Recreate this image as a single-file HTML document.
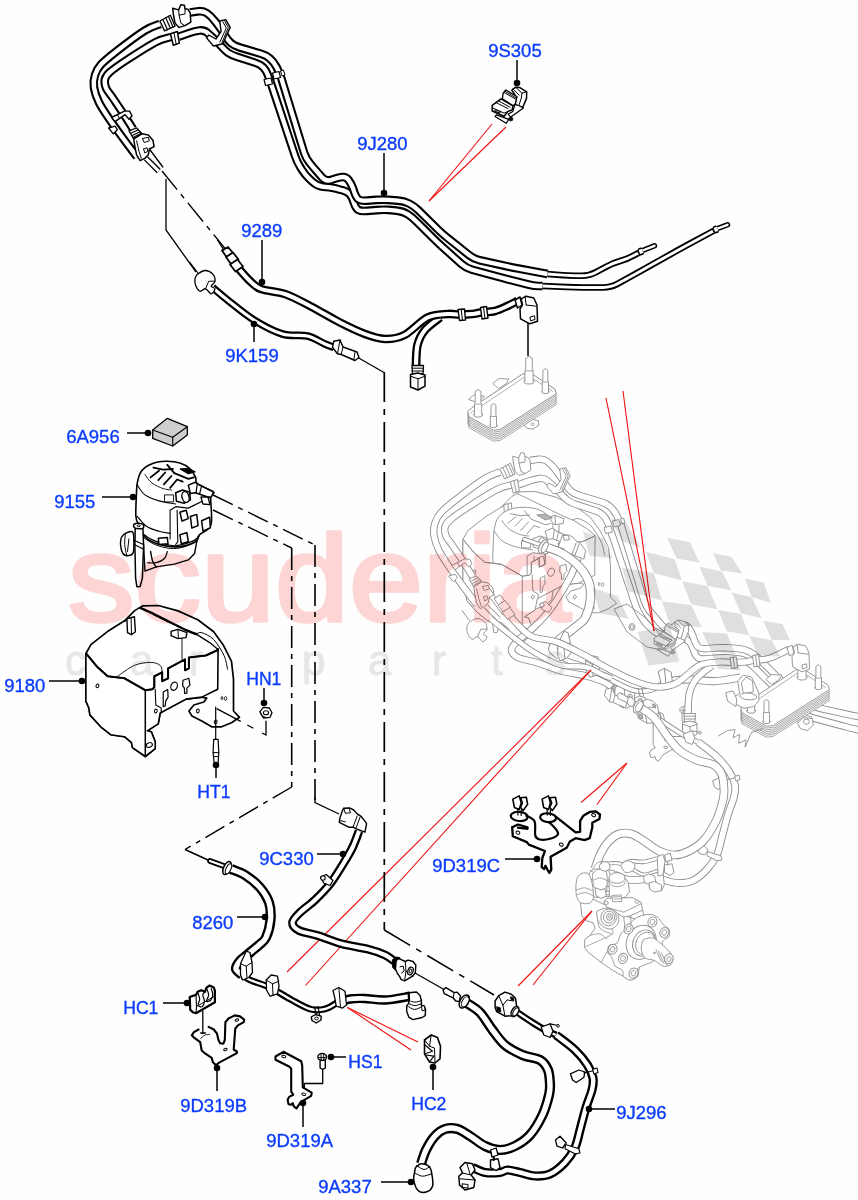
<!DOCTYPE html>
<html><head><meta charset="utf-8"><title>Fuel Lines</title>
<style>
html,body{margin:0;padding:0;background:#fdfefd;}
body{width:858px;height:1200px;overflow:hidden;font-family:"Liberation Sans",Arial,sans-serif;}
svg{display:block;}
</style></head><body>
<svg width="858" height="1200" viewBox="0 0 858 1200">
<rect width="858" height="1200" fill="#fdfefd"/>
<g id="ghost"><path d="M492.8 383.5L498.6 378.6L508.8 379.0L506.3 383.5L498.6 388.6Z" fill="#fff" stroke="#8f8f8f" stroke-width="0.9" stroke-linejoin="round"/><path d="M468.5 399.5L474.2 394.7L484.5 396.3L478.1 402.7Z" fill="#fff" stroke="#8f8f8f" stroke-width="0.9" stroke-linejoin="round"/><path d="M524.2 425.1L531.9 419.4L538.3 420.6L539.0 425.1L533.2 429.0L526.8 428.3Z" fill="#fff" stroke="#8f8f8f" stroke-width="0.9" stroke-linejoin="round"/><ellipse cx="532.6" cy="424.2" rx="1.6" ry="1.3" transform="rotate(0 532.6 424.2)" fill="#fff" stroke="#8f8f8f" stroke-width="0.8"/><path d="M467.8 422.6L471.7 418.7L522.9 384.7L531.9 384.7L555.0 400.1L556.3 404.6L499.9 440.5L493.5 441.2L469.1 427.7Z" fill="#fff" stroke="#8f8f8f" stroke-width="0.8" stroke-linejoin="round"/><path d="M467.8 420.6L471.7 416.8L522.9 382.8L531.9 382.8L555.0 398.2L556.3 402.7L499.9 438.6L493.5 439.2L469.1 425.8Z" fill="#fff" stroke="#8f8f8f" stroke-width="0.8" stroke-linejoin="round"/><path d="M467.8 418.8L471.7 415.0L522.9 381.0L531.9 381.0L555.0 396.4L556.3 400.9L499.9 436.8L493.5 437.4L469.1 424.0Z" fill="#fff" stroke="#8f8f8f" stroke-width="0.8" stroke-linejoin="round"/><path d="M467.8 417.1L471.7 413.2L522.9 379.2L531.9 379.2L555.0 394.6L556.3 399.1L499.9 435.0L493.5 435.6L469.1 422.2Z" fill="#fff" stroke="#8f8f8f" stroke-width="0.8" stroke-linejoin="round"/><path d="M467.8 415.3L471.7 411.4L522.9 377.4L531.9 377.4L555.0 392.8L556.3 397.3L499.9 433.2L493.5 433.8L469.1 420.4Z" fill="#fff" stroke="#8f8f8f" stroke-width="0.8" stroke-linejoin="round"/><path d="M467.8 413.5L471.7 409.6L522.9 375.6L531.9 375.6L555.0 391.0L556.3 395.5L499.9 431.4L493.5 432.1L469.1 418.6Z" fill="#fff" stroke="#8f8f8f" stroke-width="0.8" stroke-linejoin="round"/><path d="M467.8 411.7L471.7 407.8L522.9 373.8L531.9 373.8L555.0 389.2L556.3 393.7L499.9 429.6L493.5 430.3L469.1 416.8Z" fill="#fff" stroke="#8f8f8f" stroke-width="1.0" stroke-linejoin="round"/><path d="M471.0 412.9L523.6 377.7L531.3 377.7L552.4 391.2" fill="none" stroke="#8f8f8f" stroke-width="0.7" stroke-linejoin="round" stroke-linecap="round"/><ellipse cx="529.0" cy="381.5" rx="5.1" ry="2.5" transform="rotate(0 529.0 381.5)" fill="#fff" stroke="#8f8f8f" stroke-width="0.9"/><path d="M524.9 381.5L524.9 370.9L525.7 369.4L525.7 358.2L529.0 356.4L532.3 358.2L532.3 369.4L533.1 370.9L533.1 381.5" fill="#fff" stroke="#8f8f8f" stroke-width="0.9" stroke-linejoin="round" stroke-linecap="round"/><path d="M524.9 370.9L533.1 370.9" fill="none" stroke="#8f8f8f" stroke-width="0.8" stroke-linejoin="round" stroke-linecap="round"/><ellipse cx="545.4" cy="391.8" rx="3.8" ry="1.8" transform="rotate(0 545.4 391.8)" fill="#fff" stroke="#8f8f8f" stroke-width="0.9"/><path d="M542.3 391.8L542.3 382.1L542.9 380.6L542.9 370.4L545.4 368.6L547.8 370.4L547.8 380.6L548.5 382.1L548.5 391.8" fill="#fff" stroke="#8f8f8f" stroke-width="0.9" stroke-linejoin="round" stroke-linecap="round"/><path d="M542.3 382.1L548.5 382.1" fill="none" stroke="#8f8f8f" stroke-width="0.8" stroke-linejoin="round" stroke-linecap="round"/><ellipse cx="478.1" cy="414.9" rx="4.5" ry="2.2" transform="rotate(0 478.1 414.9)" fill="#fff" stroke="#8f8f8f" stroke-width="0.9"/><path d="M474.5 414.9L474.5 404.2L475.2 402.7L475.2 391.5L478.1 389.7L480.9 391.5L480.9 402.7L481.7 404.2L481.7 414.9" fill="#fff" stroke="#8f8f8f" stroke-width="0.9" stroke-linejoin="round" stroke-linecap="round"/><path d="M474.5 404.2L481.7 404.2" fill="none" stroke="#8f8f8f" stroke-width="0.8" stroke-linejoin="round" stroke-linecap="round"/><ellipse cx="493.5" cy="425.8" rx="3.8" ry="1.8" transform="rotate(0 493.5 425.8)" fill="#fff" stroke="#8f8f8f" stroke-width="0.9"/><path d="M490.4 425.8L490.4 416.5L491.0 415.0L491.0 405.3L493.5 403.5L495.9 405.3L495.9 415.0L496.5 416.5L496.5 425.8" fill="#fff" stroke="#8f8f8f" stroke-width="0.9" stroke-linejoin="round" stroke-linecap="round"/><path d="M490.4 416.5L496.5 416.5" fill="none" stroke="#8f8f8f" stroke-width="0.8" stroke-linejoin="round" stroke-linecap="round"/><g transform="translate(377.0 -114.0)"><path d="M85.9 653.5L90.9 644.6L108.7 630.7L124.5 620.8L134.4 610.9L142.4 605.9L158.2 605.5L178.0 610.9L197.8 619.8L213.7 631.7L223.6 645.6L231.5 661.4L233.5 679.3L233.5 711.0L239.5 717.3L231.5 722.8L221.6 726.8L211.7 726.8L201.8 720.9L191.9 715.9L188.9 711.0L193.9 705.0L203.8 702.0L206.8 698.1L201.8 697.1L186.0 699.1L160.2 712.9L158.2 723.8L147.3 730.8L151.3 731.8L155.2 741.7L155.2 748.6L145.3 756.5L132.5 747.6L131.5 742.7L124.5 736.7L110.7 734.7L100.8 726.8L89.9 714.9L88.9 708.0L85.9 701.1Z" fill="#fff" stroke="#8c8c8c" stroke-width="0.9" stroke-linejoin="round"/><path d="M124.5 621.4L126.9 619.8" fill="none" stroke="#8c8c8c" stroke-width="0.9" stroke-linejoin="round" stroke-linecap="round"/><path d="M140.4 607.9C142.7 609.0 149.3 611.9 154.3 614.3C159.2 616.6 164.5 619.4 170.1 622.2C175.7 625.0 183.6 628.9 187.9 630.9C192.3 632.9 194.9 633.6 196.3 634.1" fill="none" stroke="#8c8c8c" stroke-width="0.9" stroke-linejoin="round" stroke-linecap="round"/><path d="M196.3 634.1L209.7 642.6L218.1 649.5" fill="none" stroke="#8c8c8c" stroke-width="0.9" stroke-linejoin="round" stroke-linecap="round"/><path d="M196.3 634.1C197.2 633.8 198.9 631.8 201.8 632.7C204.7 633.6 210.0 635.8 213.7 639.6C217.4 643.4 221.7 650.5 224.0 655.5C226.3 660.4 227.0 667.0 227.6 669.3" fill="none" stroke="#8c8c8c" stroke-width="0.9" stroke-linejoin="round" stroke-linecap="round"/><path d="M126.9 618.8L134.4 616.8L135.4 631.7L131.5 634.7L127.5 632.7Z" fill="#fff" stroke="#8c8c8c" stroke-width="0.9" stroke-linejoin="round"/><path d="M131.1 618.2L131.5 633.7" fill="none" stroke="#8c8c8c" stroke-width="0.9" stroke-linejoin="round" stroke-linecap="round"/><path d="M171.1 631.3L178.0 629.3L186.9 632.7L186.0 637.6L178.0 638.6L171.1 635.7Z" fill="#fff" stroke="#8c8c8c" stroke-width="0.9" stroke-linejoin="round"/><path d="M178.0 629.7L178.4 638.0" fill="none" stroke="#8c8c8c" stroke-width="0.9" stroke-linejoin="round" stroke-linecap="round"/><path d="M117.6 676.3C120.4 674.5 129.0 667.7 134.4 665.4C139.9 663.1 146.0 662.4 150.3 662.4C154.6 662.4 158.2 663.7 160.2 665.4C162.2 667.0 161.9 671.2 162.2 672.3" fill="none" stroke="#8c8c8c" stroke-width="0.9" stroke-linejoin="round" stroke-linecap="round"/><path d="M182.0 638.6L182.0 659.4" fill="none" stroke="#8c8c8c" stroke-width="0.9" stroke-linejoin="round" stroke-linecap="round"/><ellipse cx="222.0" cy="698.1" rx="0.9" ry="1.6" transform="rotate(0 222.0 698.1)" fill="#fff" stroke="#8c8c8c" stroke-width="0.8"/><ellipse cx="225.6" cy="698.5" rx="1.2" ry="1.9" transform="rotate(0 225.6 698.5)" fill="#fff" stroke="#8c8c8c" stroke-width="0.8"/><ellipse cx="197.8" cy="711.0" rx="1.4" ry="1.9" transform="rotate(20 197.8 711.0)" fill="#fff" stroke="#8c8c8c" stroke-width="0.9"/><ellipse cx="215.7" cy="721.9" rx="1.4" ry="1.9" transform="rotate(20 215.7 721.9)" fill="#fff" stroke="#8c8c8c" stroke-width="0.9"/></g><g transform="translate(357.0 46.0)"><path d="M121.2 537.5C121.9 536.8 123.5 534.3 125.4 533.3C127.2 532.4 131.0 531.0 132.4 531.9C133.8 532.9 133.7 535.4 133.8 538.9C133.9 542.4 134.2 550.1 133.1 552.9C131.9 555.7 128.5 555.7 126.8 555.7C125.0 555.7 123.6 554.8 122.6 552.9C121.5 551.0 120.7 547.1 120.5 544.5C120.3 541.9 121.1 538.7 121.2 537.5" fill="#fff" stroke="#8c8c8c" stroke-width="0.9" stroke-linejoin="round"/><path d="M125.4 533.3C125.3 535.2 124.5 540.8 124.7 544.5C124.9 548.2 126.4 553.8 126.8 555.7" fill="none" stroke="#8c8c8c" stroke-width="0.9" stroke-linejoin="round" stroke-linecap="round"/><path d="M128.9 538.9L127.5 551.5" fill="none" stroke="#8c8c8c" stroke-width="0.9" stroke-linejoin="round" stroke-linecap="round"/><path d="M142.9 538.9L143.6 545.9L145.0 571.1L156.2 566.9L174.3 564.1L188.3 559.9L194.6 553.6L196.7 541.7L199.5 534.7" fill="#fff" stroke="#8c8c8c" stroke-width="0.9" stroke-linejoin="round" stroke-linecap="round"/><path d="M150.6 551.5C150.9 553.1 151.7 558.7 152.7 561.3C153.6 563.9 155.6 566.0 156.2 566.9" fill="none" stroke="#8c8c8c" stroke-width="0.9" stroke-linejoin="round" stroke-linecap="round"/><path d="M167.3 551.5C166.9 552.7 166.4 556.6 164.5 558.5C162.7 560.4 159.0 562.0 156.2 562.7C153.4 563.4 149.2 562.7 147.8 562.7" fill="none" stroke="#8c8c8c" stroke-width="0.9" stroke-linejoin="round" stroke-linecap="round"/><path d="M136.3 497.0C136.5 494.6 136.4 487.3 137.3 483.0C138.1 478.7 139.0 474.3 141.5 471.1C143.9 467.9 147.9 465.3 152.0 463.7C156.0 462.0 161.3 461.4 165.9 461.3C170.6 461.2 175.9 461.8 179.9 463.1C184.0 464.4 187.8 466.6 190.4 469.0C193.0 471.4 194.4 474.9 195.6 477.4C196.8 479.8 194.4 481.2 197.4 483.7C200.4 486.1 211.3 489.8 213.5 492.1C215.7 494.3 211.1 491.5 210.7 497.0C210.3 502.4 212.8 518.6 211.0 524.9C209.1 531.2 202.1 531.9 199.5 534.7C196.9 537.5 198.6 539.7 195.3 541.7C192.1 543.7 184.8 545.9 179.9 546.6C175.0 547.3 170.6 546.7 165.9 545.9C161.3 545.1 155.7 543.5 152.0 541.7C148.2 540.0 145.8 538.2 143.6 535.4C141.4 532.6 140.0 528.1 138.7 524.9C137.4 521.8 136.3 521.2 135.9 516.5C135.5 511.9 136.2 500.2 136.3 497.0" fill="#fff" stroke="#8c8c8c" stroke-width="0.9" stroke-linejoin="round"/><path d="M137.3 485.1C138.6 486.7 141.4 492.2 145.0 494.9C148.6 497.5 153.8 499.4 159.0 500.9C164.1 502.4 172.9 503.4 175.7 504.0" fill="none" stroke="#8c8c8c" stroke-width="0.9" stroke-linejoin="round" stroke-linecap="round"/><path d="M145.0 474.6C146.1 476.0 148.9 480.6 152.0 483.0C155.0 485.3 159.9 487.4 163.1 488.6C166.4 489.7 170.1 489.7 171.5 490.0" fill="none" stroke="#8c8c8c" stroke-width="0.9" stroke-linejoin="round" stroke-linecap="round"/><path d="M137.3 516.5C138.8 518.2 142.8 523.9 146.4 526.3C150.0 528.8 155.0 530.1 159.0 531.2C162.9 532.4 168.3 533.0 170.1 533.3" fill="none" stroke="#8c8c8c" stroke-width="0.9" stroke-linejoin="round" stroke-linecap="round"/><path d="M141.5 532.6C143.2 533.8 147.9 537.7 152.0 539.6C156.0 541.6 161.7 543.2 165.9 544.2C170.1 545.2 172.5 546.2 177.1 545.6C181.8 545.0 190.2 542.4 193.9 540.6C197.6 538.8 198.6 535.7 199.5 534.7" fill="none" stroke="#8c8c8c" stroke-width="0.9" stroke-linejoin="round" stroke-linecap="round"/><path d="M143.6 537.5C145.4 538.7 150.3 542.7 154.8 544.5C159.2 546.3 165.5 548.0 170.1 548.4C174.8 548.9 178.6 548.3 182.7 547.3C186.8 546.3 192.6 543.2 194.6 542.4" fill="none" stroke="#8c8c8c" stroke-width="0.9" stroke-linejoin="round" stroke-linecap="round"/><path d="M170.1 510.9L170.1 538.9" fill="none" stroke="#8c8c8c" stroke-width="0.9" stroke-linejoin="round" stroke-linecap="round"/><path d="M177.1 510.2L177.8 541.7L175.7 544.5" fill="none" stroke="#8c8c8c" stroke-width="0.9" stroke-linejoin="round" stroke-linecap="round"/><path d="M170.1 510.2L175.7 506.7L188.3 508.1L210.7 497.0" fill="none" stroke="#8c8c8c" stroke-width="0.9" stroke-linejoin="round" stroke-linecap="round"/><path d="M179.9 512.3L186.2 510.2L188.3 518.6L182.0 521.0Z" fill="#fff" stroke="#8c8c8c" stroke-width="0.9" stroke-linejoin="round"/><path d="M190.4 516.5L196.7 514.4L198.1 525.6L191.8 528.0Z" fill="#fff" stroke="#8c8c8c" stroke-width="0.9" stroke-linejoin="round"/><path d="M201.6 520.7L209.6 517.2L210.4 527.7L203.0 531.2Z" fill="#fff" stroke="#8c8c8c" stroke-width="0.9" stroke-linejoin="round"/><path d="M179.9 534.7L186.9 532.6L188.3 541.7L181.3 543.8Z" fill="#fff" stroke="#8c8c8c" stroke-width="0.9" stroke-linejoin="round"/><path d="M158.3 538.2L167.3 537.5L168.0 543.8L159.0 544.5Z" fill="#fff" stroke="#8c8c8c" stroke-width="0.9" stroke-linejoin="round"/><path d="M164.5 494.9L173.6 494.9L173.6 501.9L164.5 501.9Z" fill="#fff" stroke="#8c8c8c" stroke-width="0.9" stroke-linejoin="round"/><path d="M175.7 492.8L182.7 490.0L189.7 492.1L190.4 499.8L184.1 503.3L176.4 501.2Z" fill="#fff" stroke="#8c8c8c" stroke-width="0.9" stroke-linejoin="round"/><ellipse cx="185.5" cy="497.0" rx="3.5" ry="5.5" transform="rotate(-15 185.5 497.0)" fill="#fff" stroke="#8c8c8c" stroke-width="0.9"/><path d="M188.3 485.1L195.3 482.3L199.5 485.1L213.5 492.1L211.4 497.0L207.9 497.0L195.3 492.8L190.4 493.5Z" fill="#fff" stroke="#8c8c8c" stroke-width="0.9" stroke-linejoin="round"/><path d="M197.4 483.7L196.0 492.8" fill="none" stroke="#8c8c8c" stroke-width="0.9" stroke-linejoin="round" stroke-linecap="round"/><path d="M201.6 485.8L199.5 494.4" fill="none" stroke="#8c8c8c" stroke-width="0.9" stroke-linejoin="round" stroke-linecap="round"/><path d="M200.9 497.0L207.9 497.0L210.0 504.7L203.0 504.0Z" fill="#fff" stroke="#8c8c8c" stroke-width="0.9" stroke-linejoin="round"/><path d="M153.4 467.6L163.1 469.7L172.9 469.0" fill="none" stroke="#8c8c8c" stroke-width="0.9" stroke-linejoin="round" stroke-linecap="round"/><path d="M150.6 477.4L159.0 470.7" fill="none" stroke="#8c8c8c" stroke-width="0.9" stroke-linejoin="round" stroke-linecap="round"/><path d="M158.3 480.2L165.2 472.5" fill="none" stroke="#8c8c8c" stroke-width="0.9" stroke-linejoin="round" stroke-linecap="round"/><path d="M163.8 484.4L171.5 476.0" fill="none" stroke="#8c8c8c" stroke-width="0.9" stroke-linejoin="round" stroke-linecap="round"/><path d="M170.1 487.9L177.1 479.5L182.7 481.6" fill="none" stroke="#8c8c8c" stroke-width="0.9" stroke-linejoin="round" stroke-linecap="round"/><path d="M174.3 473.2L188.3 478.8L193.9 477.4" fill="none" stroke="#8c8c8c" stroke-width="0.9" stroke-linejoin="round" stroke-linecap="round"/><path d="M167.3 464.8L174.3 473.2" fill="none" stroke="#8c8c8c" stroke-width="0.9" stroke-linejoin="round" stroke-linecap="round"/><path d="M179.9 469.0L188.3 468.3L195.3 471.8L188.3 473.9Z" fill="#b5b5b5" stroke="#8c8c8c" stroke-width="0.9" stroke-linejoin="round"/><path d="M135.2 527.7L142.9 527.7L143.6 545.9L142.4 578.1L140.1 586.5L136.9 586.7L135.6 578.1L134.9 545.9Z" fill="#fff" stroke="#8c8c8c" stroke-width="0.9" stroke-linejoin="round"/><path d="M133.8 540.3L143.6 544.5" fill="none" stroke="#8c8c8c" stroke-width="0.9" stroke-linejoin="round" stroke-linecap="round"/><path d="M134.1 544.5L143.3 549.0" fill="none" stroke="#8c8c8c" stroke-width="0.9" stroke-linejoin="round" stroke-linecap="round"/><ellipse cx="138.7" cy="526.0" rx="5.2" ry="2.8" transform="rotate(5 138.7 526.0)" fill="#fff" stroke="#8c8c8c" stroke-width="0.9"/><ellipse cx="138.7" cy="525.8" rx="1.6" ry="0.9" transform="rotate(5 138.7 525.8)" fill="#fff" stroke="#8c8c8c" stroke-width="0.9"/></g><g transform="translate(377.0 -114.0)"><path d="M86.5 653.9L96.8 666.4L107.7 676.3L124.5 678.3L145.3 690.2L152.3 689.2L154.3 687.2L154.3 676.3L162.2 672.3L162.2 681.2L168.1 678.3L168.1 668.4L185.0 659.4L185.0 670.3L188.9 668.4L188.9 657.5L205.8 655.5L216.7 650.5L218.1 649.1L217.7 689.2L201.8 697.1L186.0 699.1L160.2 712.9L158.2 723.8L147.3 730.8L151.3 731.8L155.2 741.7L155.2 748.6L145.3 756.5L132.5 747.6L131.5 742.7L124.5 736.7L110.7 734.7L100.8 726.8L89.9 714.9L88.9 708.0L85.9 701.1L85.9 653.9Z" fill="#fff" stroke="#8c8c8c" stroke-width="0.9" stroke-linejoin="round"/><path d="M86.5 653.9L96.8 666.4L107.7 676.3L124.5 678.3L145.3 690.2L152.3 689.2L154.3 687.2L154.3 676.3L162.2 672.3L162.2 681.2L168.1 678.3L168.1 668.4L185.0 659.4L185.0 670.3L188.9 668.4L188.9 657.5L205.8 655.5L216.7 650.5L218.1 649.1" fill="none" stroke="#8c8c8c" stroke-width="0.9" stroke-linejoin="round" stroke-linecap="round"/><path d="M145.3 690.2L145.3 756.5" fill="none" stroke="#8c8c8c" stroke-width="0.9" stroke-linejoin="round" stroke-linecap="round"/><path d="M155.2 689.2L155.8 705.0L161.2 708.0L161.2 712.9" fill="none" stroke="#8c8c8c" stroke-width="0.9" stroke-linejoin="round" stroke-linecap="round"/><ellipse cx="174.1" cy="686.2" rx="3.2" ry="4.2" transform="rotate(20 174.1 686.2)" fill="#fff" stroke="#8c8c8c" stroke-width="0.9"/><path d="M183.0 680.2L188.9 678.3L189.9 685.2L186.9 688.2L186.9 693.1L184.6 693.5L184.4 688.2L182.6 685.6Z" fill="#fff" stroke="#8c8c8c" stroke-width="0.9" stroke-linejoin="round"/><path d="M163.2 692.1L167.7 689.6L168.1 697.1L165.7 701.1L165.2 706.0L163.2 706.6Z" fill="#fff" stroke="#8c8c8c" stroke-width="0.9" stroke-linejoin="round"/><ellipse cx="97.4" cy="685.8" rx="1.4" ry="1.9" transform="rotate(20 97.4 685.8)" fill="#fff" stroke="#8c8c8c" stroke-width="0.9"/><ellipse cx="155.8" cy="711.0" rx="1.4" ry="1.9" transform="rotate(20 155.8 711.0)" fill="#fff" stroke="#8c8c8c" stroke-width="0.9"/><ellipse cx="149.3" cy="745.0" rx="3.2" ry="2.2" transform="rotate(-25 149.3 745.0)" fill="#fff" stroke="#8c8c8c" stroke-width="0.9"/></g><g transform="translate(362.0 -347.0)"><path d="M322.7 1069.1L322.7 1083.5L304.3 1083.5L304.3 1093.7" fill="none" stroke="#8c8c8c" stroke-width="0.9" stroke-linejoin="round" stroke-linecap="round"/><path d="M275.5 1056.5L283.4 1051.8L301.2 1061.2L302.2 1065.4L302.8 1087.4L311.7 1092.7L311.2 1095.8L300.7 1102.1L296.5 1108.4L293.8 1106.3L292.8 1103.2L291.2 1104.8L288.6 1104.2L287.6 1100.0L289.1 1096.9L293.3 1094.8L291.2 1091.6L291.2 1068.6L289.1 1066.5L275.5 1059.7Z" fill="#fff" stroke="#8c8c8c" stroke-width="0.9" stroke-linejoin="round"/><ellipse cx="283.7" cy="1056.5" rx="2.0" ry="1.2" transform="rotate(10 283.7 1056.5)" fill="#fff" stroke="#8c8c8c" stroke-width="0.9"/><ellipse cx="303.8" cy="1094.3" rx="2.0" ry="1.2" transform="rotate(10 303.8 1094.3)" fill="#fff" stroke="#8c8c8c" stroke-width="0.9"/><path d="M320.1 1059.7L325.3 1059.7L325.3 1068.0L322.7 1069.4L320.1 1068.0Z" fill="#fff" stroke="#8c8c8c" stroke-width="0.9" stroke-linejoin="round"/><ellipse cx="322.2" cy="1057.0" rx="4.3" ry="3.4" transform="rotate(0 322.2 1057.0)" fill="#fff" stroke="#8c8c8c" stroke-width="0.9"/><path d="M319.0 1057.6L325.3 1057.6" fill="none" stroke="#8c8c8c" stroke-width="0.9" stroke-linejoin="round" stroke-linecap="round"/><path d="M321.1 1054.9L321.1 1059.7" fill="none" stroke="#8c8c8c" stroke-width="0.9" stroke-linejoin="round" stroke-linecap="round"/><path d="M323.7 1054.9L323.7 1059.7" fill="none" stroke="#8c8c8c" stroke-width="0.9" stroke-linejoin="round" stroke-linecap="round"/></g><g transform="translate(340.0 448.0)"><path d="M160.0 24.0C157.5 25.1 152.1 26.1 145.0 30.5C137.9 34.9 124.8 44.8 117.5 50.5C110.2 56.2 104.8 60.4 101.0 64.5C97.2 68.6 96.2 71.2 95.0 75.0C93.8 78.8 93.3 82.9 94.0 87.5C94.7 92.1 96.3 97.1 99.0 102.5C101.7 107.9 106.1 114.2 110.0 120.0C113.9 125.8 118.0 131.3 122.5 137.5C127.0 143.7 134.6 153.8 137.0 157.0" fill="none" stroke="#8c8c8c" stroke-width="7.4" stroke-linejoin="round" stroke-linecap="butt"/><path d="M160.0 24.0C157.5 25.1 152.1 26.1 145.0 30.5C137.9 34.9 124.8 44.8 117.5 50.5C110.2 56.2 104.8 60.4 101.0 64.5C97.2 68.6 96.2 71.2 95.0 75.0C93.8 78.8 93.3 82.9 94.0 87.5C94.7 92.1 96.3 97.1 99.0 102.5C101.7 107.9 106.1 114.2 110.0 120.0C113.9 125.8 118.0 131.3 122.5 137.5C127.0 143.7 134.6 153.8 137.0 157.0" fill="none" stroke="#fff" stroke-width="5.6" stroke-linejoin="round" stroke-linecap="butt"/><path d="M171.0 37.0C168.5 37.8 163.2 38.2 156.0 42.0C148.8 45.8 135.2 54.5 127.5 59.5C119.8 64.5 113.8 68.8 110.0 72.0C106.2 75.2 105.7 76.3 105.0 79.0C104.3 81.7 104.8 84.9 106.0 88.0C107.2 91.1 109.8 93.4 112.5 97.5C115.2 101.6 119.1 107.2 122.5 112.5C125.9 117.8 131.2 126.2 133.0 129.0" fill="none" stroke="#8c8c8c" stroke-width="7.4" stroke-linejoin="round" stroke-linecap="butt"/><path d="M171.0 37.0C168.5 37.8 163.2 38.2 156.0 42.0C148.8 45.8 135.2 54.5 127.5 59.5C119.8 64.5 113.8 68.8 110.0 72.0C106.2 75.2 105.7 76.3 105.0 79.0C104.3 81.7 104.8 84.9 106.0 88.0C107.2 91.1 109.8 93.4 112.5 97.5C115.2 101.6 119.1 107.2 122.5 112.5C125.9 117.8 131.2 126.2 133.0 129.0" fill="none" stroke="#fff" stroke-width="5.6" stroke-linejoin="round" stroke-linecap="butt"/><path d="M178.7 36.7L189.3 33.0Q195.0 31.0 199.5 30.5L199.5 30.5Q204.0 30.0 207.0 32.5L207.0 32.5Q210.0 35.0 214.4 39.1L214.8 39.6Q219.2 43.7 222.2 47.2L222.2 47.2Q225.3 50.7 228.4 52.9L228.4 52.9Q231.5 55.0 237.2 56.8L254.6 62.5Q260.3 64.3 263.1 67.2L263.1 67.2Q266.0 70.0 268.0 75.2L268.0 75.2Q270.0 80.4 271.9 86.1L295.1 156.0Q297.0 161.7 300.1 166.8L301.9 169.7Q305.0 174.8 309.4 178.9L312.6 181.9Q317.0 186.0 323.0 186.7L329.0 187.3Q335.0 188.0 340.7 189.8L342.3 190.2Q348.0 192.0 350.0 194.5L350.0 194.5Q352.0 197.0 353.8 202.5L353.8 202.5Q355.5 208.0 358.2 209.8L358.2 209.8Q361.0 211.5 367.0 210.9L376.5 210.1Q382.5 209.5 388.5 209.9L396.5 210.6Q402.5 211.0 407.5 214.2L407.5 214.2Q412.5 217.5 416.7 221.7L433.3 238.3Q437.5 242.5 442.0 246.5L461.5 264.0Q466.0 268.0 471.8 269.6L496.7 276.4Q502.5 278.0 508.3 279.5L528.2 284.5Q534.0 286.0 538.2 286.0L542.5 286.0" fill="none" stroke="#8c8c8c" stroke-width="7.4" stroke-linejoin="round" stroke-linecap="butt"/><path d="M178.7 36.7L189.3 33.0Q195.0 31.0 199.5 30.5L199.5 30.5Q204.0 30.0 207.0 32.5L207.0 32.5Q210.0 35.0 214.4 39.1L214.8 39.6Q219.2 43.7 222.2 47.2L222.2 47.2Q225.3 50.7 228.4 52.9L228.4 52.9Q231.5 55.0 237.2 56.8L254.6 62.5Q260.3 64.3 263.1 67.2L263.1 67.2Q266.0 70.0 268.0 75.2L268.0 75.2Q270.0 80.4 271.9 86.1L295.1 156.0Q297.0 161.7 300.1 166.8L301.9 169.7Q305.0 174.8 309.4 178.9L312.6 181.9Q317.0 186.0 323.0 186.7L329.0 187.3Q335.0 188.0 340.7 189.8L342.3 190.2Q348.0 192.0 350.0 194.5L350.0 194.5Q352.0 197.0 353.8 202.5L353.8 202.5Q355.5 208.0 358.2 209.8L358.2 209.8Q361.0 211.5 367.0 210.9L376.5 210.1Q382.5 209.5 388.5 209.9L396.5 210.6Q402.5 211.0 407.5 214.2L407.5 214.2Q412.5 217.5 416.7 221.7L433.3 238.3Q437.5 242.5 442.0 246.5L461.5 264.0Q466.0 268.0 471.8 269.6L496.7 276.4Q502.5 278.0 508.3 279.5L528.2 284.5Q534.0 286.0 538.2 286.0L542.5 286.0" fill="none" stroke="#fff" stroke-width="5.6" stroke-linejoin="round" stroke-linecap="butt"/><path d="M190.0 12.5L197.1 11.4Q203.0 10.5 207.0 13.2L207.0 13.2Q211.0 16.0 214.7 20.8L217.3 24.2Q221.0 29.0 224.1 34.1L224.9 35.4Q228.0 40.5 231.0 43.1L231.0 43.1Q234.0 45.8 239.8 47.5L260.6 53.7Q266.4 55.4 269.9 58.5L269.9 58.5Q273.4 61.5 276.3 66.7L276.6 67.3Q279.5 72.5 281.3 78.2L304.0 152.5Q305.8 158.2 309.6 162.9L309.8 163.1Q313.6 167.8 317.6 172.3L321.9 177.3Q325.9 181.8 331.6 179.8L332.3 179.5Q338.0 177.5 342.0 177.0L342.0 177.0Q346.0 176.5 348.5 179.8L348.5 179.8Q351.0 183.0 353.1 188.6L354.4 192.4Q356.5 198.0 358.8 199.5L358.8 199.5Q361.0 201.0 367.0 200.6L376.5 199.9Q382.5 199.5 388.5 199.9L398.0 200.6Q404.0 201.0 409.0 203.5L409.0 203.5Q414.0 206.0 418.3 210.2L438.2 229.8Q442.5 234.0 447.2 237.7L469.3 255.3Q474.0 259.0 479.9 260.3L506.6 266.2Q512.5 267.5 518.4 268.6L547.5 274.0" fill="none" stroke="#8c8c8c" stroke-width="7.4" stroke-linejoin="round" stroke-linecap="butt"/><path d="M190.0 12.5L197.1 11.4Q203.0 10.5 207.0 13.2L207.0 13.2Q211.0 16.0 214.7 20.8L217.3 24.2Q221.0 29.0 224.1 34.1L224.9 35.4Q228.0 40.5 231.0 43.1L231.0 43.1Q234.0 45.8 239.8 47.5L260.6 53.7Q266.4 55.4 269.9 58.5L269.9 58.5Q273.4 61.5 276.3 66.7L276.6 67.3Q279.5 72.5 281.3 78.2L304.0 152.5Q305.8 158.2 309.6 162.9L309.8 163.1Q313.6 167.8 317.6 172.3L321.9 177.3Q325.9 181.8 331.6 179.8L332.3 179.5Q338.0 177.5 342.0 177.0L342.0 177.0Q346.0 176.5 348.5 179.8L348.5 179.8Q351.0 183.0 353.1 188.6L354.4 192.4Q356.5 198.0 358.8 199.5L358.8 199.5Q361.0 201.0 367.0 200.6L376.5 199.9Q382.5 199.5 388.5 199.9L398.0 200.6Q404.0 201.0 409.0 203.5L409.0 203.5Q414.0 206.0 418.3 210.2L438.2 229.8Q442.5 234.0 447.2 237.7L469.3 255.3Q474.0 259.0 479.9 260.3L506.6 266.2Q512.5 267.5 518.4 268.6L547.5 274.0" fill="none" stroke="#fff" stroke-width="5.6" stroke-linejoin="round" stroke-linecap="butt"/><path d="M547.5 274.0L559.5 274.9Q567.5 275.5 575.5 275.7L581.0 275.8Q589.0 276.0 596.0 272.2L606.0 266.8Q613.0 263.0 620.2 261.0L620.2 261.0Q627.5 259.0 634.5 255.1L642.0 251.0" fill="none" stroke="#8c8c8c" stroke-width="5.6" stroke-linejoin="round" stroke-linecap="butt"/><path d="M547.5 274.0L559.5 274.9Q567.5 275.5 575.5 275.7L581.0 275.8Q589.0 276.0 596.0 272.2L606.0 266.8Q613.0 263.0 620.2 261.0L620.2 261.0Q627.5 259.0 634.5 255.1L642.0 251.0" fill="none" stroke="#fff" stroke-width="3.8" stroke-linejoin="round" stroke-linecap="butt"/><path d="M640.0 251.5L654.5 245.8" fill="none" stroke="#8c8c8c" stroke-width="4.8" stroke-linejoin="round" stroke-linecap="round"/><path d="M640.0 251.5L654.5 245.8" fill="none" stroke="#fff" stroke-width="3.0" stroke-linejoin="round" stroke-linecap="round"/><path d="M639.5 252.0L642.5 250.7" fill="none" stroke="#8c8c8c" stroke-width="6.9" stroke-linejoin="round" stroke-linecap="butt"/><path d="M639.5 252.0L642.5 250.7" fill="none" stroke="#fff" stroke-width="5.1" stroke-linejoin="round" stroke-linecap="butt"/><path d="M542.5 286.0L567.0 287.1Q575.0 287.5 583.0 287.5L603.0 287.5Q611.0 287.5 618.0 283.6L635.5 273.9Q642.5 270.0 649.5 266.1L673.0 252.9Q680.0 249.0 687.0 245.2L717.0 229.0" fill="none" stroke="#8c8c8c" stroke-width="5.6" stroke-linejoin="round" stroke-linecap="butt"/><path d="M542.5 286.0L567.0 287.1Q575.0 287.5 583.0 287.5L603.0 287.5Q611.0 287.5 618.0 283.6L635.5 273.9Q642.5 270.0 649.5 266.1L673.0 252.9Q680.0 249.0 687.0 245.2L717.0 229.0" fill="none" stroke="#fff" stroke-width="3.8" stroke-linejoin="round" stroke-linecap="butt"/><path d="M715.0 229.5L727.5 224.8" fill="none" stroke="#8c8c8c" stroke-width="4.8" stroke-linejoin="round" stroke-linecap="round"/><path d="M715.0 229.5L727.5 224.8" fill="none" stroke="#fff" stroke-width="3.0" stroke-linejoin="round" stroke-linecap="round"/><path d="M714.5 230.0L717.5 228.7" fill="none" stroke="#8c8c8c" stroke-width="6.9" stroke-linejoin="round" stroke-linecap="butt"/><path d="M714.5 230.0L717.5 228.7" fill="none" stroke="#fff" stroke-width="5.1" stroke-linejoin="round" stroke-linecap="butt"/><path d="M264.0 79.5L271.0 78.0L272.5 84.0L265.5 85.5Z" fill="#fff" stroke="#8c8c8c" stroke-width="0.9" stroke-linejoin="round"/><path d="M272.5 73.0L279.0 71.5L280.5 77.5L274.0 79.0Z" fill="#fff" stroke="#8c8c8c" stroke-width="0.9" stroke-linejoin="round"/><path d="M280.5 71.0L283.5 70.0L285.0 75.0L282.0 76.0Z" fill="#fff" stroke="#8c8c8c" stroke-width="0.9" stroke-linejoin="round"/><path d="M159.9 21.0L170.4 15.2L175.1 26.2L164.6 30.9Z" fill="#fff" stroke="#8c8c8c" stroke-width="0.9" stroke-linejoin="round"/><path d="M162.8 19.6L167.5 29.7" fill="none" stroke="#8c8c8c" stroke-width="0.9" stroke-linejoin="round" stroke-linecap="round"/><path d="M165.7 17.8L170.4 28.3" fill="none" stroke="#8c8c8c" stroke-width="0.9" stroke-linejoin="round" stroke-linecap="round"/><path d="M168.4 16.3L173.0 27.0" fill="none" stroke="#8c8c8c" stroke-width="0.9" stroke-linejoin="round" stroke-linecap="round"/><path d="M172.7 8.2L178.6 9.9L180.9 4.7L184.4 5.2L185.0 8.7L187.9 9.3L190.2 12.8L190.8 22.1L185.0 25.6L179.1 27.4L175.1 23.3L173.3 14.0Z" fill="#fff" stroke="#8c8c8c" stroke-width="0.9" stroke-linejoin="round"/><path d="M178.6 9.9L179.1 15.2L185.0 14.0L185.0 8.7" fill="none" stroke="#8c8c8c" stroke-width="0.9" stroke-linejoin="round" stroke-linecap="round"/><path d="M179.1 15.2L180.9 23.3L185.0 25.6" fill="none" stroke="#8c8c8c" stroke-width="0.9" stroke-linejoin="round" stroke-linecap="round"/><path d="M170.4 33.8L177.4 31.5L179.4 43.1L173.3 45.2Z" fill="#fff" stroke="#8c8c8c" stroke-width="0.9" stroke-linejoin="round"/><path d="M173.9 32.6L176.2 44.1" fill="none" stroke="#8c8c8c" stroke-width="0.9" stroke-linejoin="round" stroke-linecap="round"/><path d="M219.7 21.0L225.8 19.6L230.2 27.4L222.8 43.7L213.5 46.0L206.5 37.9L208.9 35.0L215.9 39.0L221.1 31.5Z" fill="#fff" stroke="#8c8c8c" stroke-width="0.9" stroke-linejoin="round"/><path d="M222.8 21.6L226.3 28.0L219.9 42.0" fill="none" stroke="#8c8c8c" stroke-width="0.9" stroke-linejoin="round" stroke-linecap="round"/><path d="M224.6 20.7L228.3 27.7L221.7 43.1" fill="none" stroke="#8c8c8c" stroke-width="0.9" stroke-linejoin="round" stroke-linecap="round"/><path d="M108.6 128.0L115.1 126.2L117.4 129.7L113.3 133.8Z" fill="#fff" stroke="#8c8c8c" stroke-width="0.9" stroke-linejoin="round"/><path d="M111.6 117.5L124.4 111.1L129.6 111.1L132.0 115.7L129.0 119.2L125.0 114.6L115.1 121.6Z" fill="#fff" stroke="#8c8c8c" stroke-width="0.9" stroke-linejoin="round"/><path d="M117.4 114.6L119.7 118.6" fill="none" stroke="#8c8c8c" stroke-width="0.9" stroke-linejoin="round" stroke-linecap="round"/><path d="M145.9 158.3L158.8 171.1" fill="none" stroke="#8c8c8c" stroke-width="5.4" stroke-linejoin="round" stroke-linecap="butt"/><path d="M145.9 158.3L158.8 171.1" fill="none" stroke="#fff" stroke-width="3.6" stroke-linejoin="round" stroke-linecap="butt"/><path d="M149.4 149.0L162.8 167.0" fill="none" stroke="#8c8c8c" stroke-width="0.9" stroke-linejoin="round" stroke-linecap="round"/><path d="M129.0 130.9L136.6 128.0L141.9 133.8L133.7 139.0Z" fill="#fff" stroke="#8c8c8c" stroke-width="0.9" stroke-linejoin="round"/><path d="M130.8 133.2L138.4 129.7" fill="none" stroke="#8c8c8c" stroke-width="0.9" stroke-linejoin="round" stroke-linecap="round"/><path d="M132.2 135.5L140.1 131.7" fill="none" stroke="#8c8c8c" stroke-width="0.9" stroke-linejoin="round" stroke-linecap="round"/><path d="M133.1 137.5L141.3 133.2" fill="none" stroke="#8c8c8c" stroke-width="0.9" stroke-linejoin="round" stroke-linecap="round"/><path d="M133.7 139.0L141.9 133.8L148.3 135.0L152.9 140.2L154.1 146.6L149.4 149.0L148.3 154.8L144.8 158.3L140.1 160.6L136.6 154.8L134.9 146.6Z" fill="#fff" stroke="#8c8c8c" stroke-width="0.9" stroke-linejoin="round"/><path d="M142.4 138.5L148.3 137.3L149.4 140.8L144.2 142.5L142.4 138.5" fill="none" stroke="#8c8c8c" stroke-width="0.9" stroke-linejoin="round" stroke-linecap="round"/><path d="M143.6 149.0L147.1 147.8L147.7 151.3L144.8 153.0L143.6 149.0" fill="none" stroke="#8c8c8c" stroke-width="0.9" stroke-linejoin="round" stroke-linecap="round"/><path d="M136.6 140.8L139.0 151.3L141.3 158.3" fill="none" stroke="#8c8c8c" stroke-width="0.9" stroke-linejoin="round" stroke-linecap="round"/></g><g transform="translate(162.0 533.0)"><path d="M495.0 116.6L496.4 114.9L508.7 119.4L506.2 123.3Z" fill="#fff" stroke="#8c8c8c" stroke-width="0.9" stroke-linejoin="round"/><path d="M511.8 90.0L515.7 87.2L519.9 87.6L526.7 91.8L526.5 98.4L523.0 106.8L518.1 107.9L515.3 103.3L516.4 97.4Z" fill="#fff" stroke="#8c8c8c" stroke-width="0.9" stroke-linejoin="round"/><path d="M503.1 93.2L505.9 90.0L517.1 96.7L515.0 104.4L512.9 105.8L502.4 98.8Z" fill="#fff" stroke="#8c8c8c" stroke-width="0.9" stroke-linejoin="round"/><path d="M492.2 105.4L501.0 98.8L512.9 105.8L512.2 110.0L508.0 111.4L504.1 116.3L492.2 111.0Z" fill="#fff" stroke="#8c8c8c" stroke-width="0.9" stroke-linejoin="round"/><path d="M515.7 87.2L522.0 93.2L526.5 91.8" fill="none" stroke="#8c8c8c" stroke-width="0.9" stroke-linejoin="round" stroke-linecap="round"/><path d="M522.0 93.2L521.3 98.1L518.1 107.9" fill="none" stroke="#8c8c8c" stroke-width="0.9" stroke-linejoin="round" stroke-linecap="round"/><path d="M512.9 89.0L519.2 95.3" fill="none" stroke="#8c8c8c" stroke-width="0.9" stroke-linejoin="round" stroke-linecap="round"/><path d="M505.2 91.4L516.4 98.1" fill="none" stroke="#8c8c8c" stroke-width="0.9" stroke-linejoin="round" stroke-linecap="round"/><path d="M504.1 92.5L515.7 99.1" fill="none" stroke="#8c8c8c" stroke-width="0.9" stroke-linejoin="round" stroke-linecap="round"/><path d="M496.1 102.6L508.0 108.6" fill="none" stroke="#8c8c8c" stroke-width="0.9" stroke-linejoin="round" stroke-linecap="round"/><path d="M498.5 100.9L510.1 107.2" fill="none" stroke="#8c8c8c" stroke-width="0.9" stroke-linejoin="round" stroke-linecap="round"/><path d="M492.6 107.9L504.1 113.1L508.0 111.4" fill="none" stroke="#8c8c8c" stroke-width="0.9" stroke-linejoin="round" stroke-linecap="round"/><path d="M495.0 109.6L500.3 111.7L499.9 113.1L494.7 111.0Z" fill="#fff" stroke="#8c8c8c" stroke-width="0.9" stroke-linejoin="round"/><path d="M515.0 104.4L519.2 105.8L523.4 107.9L510.8 117.0L508.0 114.2L512.9 111.4Z" fill="#fff" stroke="#8c8c8c" stroke-width="0.9" stroke-linejoin="round"/><ellipse cx="510.8" cy="119.1" rx="2.2" ry="2.0" transform="rotate(0 510.8 119.1)" fill="#b5b5b5" stroke="#8c8c8c" stroke-width="0.5"/></g><g transform="translate(219.0 -273.0)"><path d="M359.0 831.0C357.9 833.8 355.2 841.8 352.5 847.5C349.8 853.2 346.2 858.9 342.5 865.0C338.8 871.1 334.6 878.2 330.0 884.0C325.4 889.8 320.0 895.2 315.0 900.0C310.0 904.8 303.8 908.8 300.0 912.5C296.2 916.2 292.7 919.5 292.5 922.5C292.3 925.5 294.8 928.3 299.0 930.5C303.2 932.7 310.2 933.2 317.5 935.5C324.8 937.8 334.2 941.8 342.5 944.0C350.8 946.2 360.4 947.2 367.5 949.0C374.6 950.8 380.6 953.0 385.0 955.0C389.4 957.0 392.5 960.0 394.0 961.0" fill="none" stroke="#8c8c8c" stroke-width="7.4" stroke-linejoin="round" stroke-linecap="butt"/><path d="M359.0 831.0C357.9 833.8 355.2 841.8 352.5 847.5C349.8 853.2 346.2 858.9 342.5 865.0C338.8 871.1 334.6 878.2 330.0 884.0C325.4 889.8 320.0 895.2 315.0 900.0C310.0 904.8 303.8 908.8 300.0 912.5C296.2 916.2 292.7 919.5 292.5 922.5C292.3 925.5 294.8 928.3 299.0 930.5C303.2 932.7 310.2 933.2 317.5 935.5C324.8 937.8 334.2 941.8 342.5 944.0C350.8 946.2 360.4 947.2 367.5 949.0C374.6 950.8 380.6 953.0 385.0 955.0C389.4 957.0 392.5 960.0 394.0 961.0" fill="none" stroke="#fff" stroke-width="5.6" stroke-linejoin="round" stroke-linecap="butt"/><path d="M343.5 808.3L349.5 807.9L353.7 810.0L357.2 813.9L361.4 816.7L364.2 820.2L366.6 823.7L364.9 832.1L355.8 828.6L353.0 827.2L348.8 827.2L339.3 822.3L339.7 818.8L341.8 812.5Z" fill="#fff" stroke="#8c8c8c" stroke-width="0.9" stroke-linejoin="round"/><path d="M355.8 828.6L360.0 817.4" fill="none" stroke="#8c8c8c" stroke-width="0.9" stroke-linejoin="round" stroke-linecap="round"/><path d="M353.0 827.2L357.2 816.0" fill="none" stroke="#8c8c8c" stroke-width="0.9" stroke-linejoin="round" stroke-linecap="round"/><path d="M343.9 808.6L349.1 808.3L350.5 812.8L345.3 813.3Z" fill="#fff" stroke="#8c8c8c" stroke-width="0.9" stroke-linejoin="round"/><path d="M340.0 820.5L345.3 821.9" fill="none" stroke="#8c8c8c" stroke-width="0.9" stroke-linejoin="round" stroke-linecap="round"/><path d="M320.5 877.0L326.2 874.5L333.0 880.5L330.0 885.5L323.8 883.0Z" fill="#fff" stroke="#8c8c8c" stroke-width="0.9" stroke-linejoin="round"/><ellipse cx="323.0" cy="878.0" rx="2.2" ry="2.2" transform="rotate(0 323.0 878.0)" fill="#fff" stroke="#8c8c8c" stroke-width="0.9"/><path d="M392.3 959.8L396.2 957.0L400.0 957.7L399.0 971.0L395.5 970.3L392.7 967.5Z" fill="#b5b5b5" stroke="#8c8c8c" stroke-width="0.9" stroke-linejoin="round"/><path d="M396.2 960.5L399.0 958.7L405.3 961.5L408.1 960.1L413.0 961.5L415.8 965.0L415.4 972.4L413.0 975.9L404.6 980.8L401.1 979.4L399.7 976.6L397.2 973.1L395.5 968.9Z" fill="#fff" stroke="#8c8c8c" stroke-width="0.9" stroke-linejoin="round"/><path d="M405.3 961.5L406.0 971.0L404.6 980.8" fill="none" stroke="#8c8c8c" stroke-width="0.9" stroke-linejoin="round" stroke-linecap="round"/><path d="M406.0 971.0L413.0 975.9" fill="none" stroke="#8c8c8c" stroke-width="0.9" stroke-linejoin="round" stroke-linecap="round"/><ellipse cx="410.5" cy="971.0" rx="2.6" ry="4.0" transform="rotate(20 410.5 971.0)" fill="#fff" stroke="#8c8c8c" stroke-width="0.9"/><ellipse cx="410.5" cy="971.0" rx="1.2" ry="2.2" transform="rotate(20 410.5 971.0)" fill="#fff" stroke="#8c8c8c" stroke-width="0.9"/><path d="M400.0 966.8L403.2 966.1L404.2 971.0L401.4 973.1" fill="none" stroke="#8c8c8c" stroke-width="0.9" stroke-linejoin="round" stroke-linecap="round"/></g><g transform="translate(547.5 547.5) scale(1.085 1.02) translate(-231 -869)"><path d="M242.5 975.0C243.8 975.8 245.4 977.9 250.0 980.0C254.6 982.1 263.3 984.3 270.0 987.5C276.7 990.7 283.3 995.4 290.0 999.0C296.7 1002.6 304.2 1007.3 310.0 1009.0C315.8 1010.7 320.4 1010.1 325.0 1009.0C329.6 1007.9 335.4 1003.6 337.5 1002.5" fill="none" stroke="#8c8c8c" stroke-width="5.5" stroke-linejoin="round" stroke-linecap="butt"/><path d="M242.5 975.0C243.8 975.8 245.4 977.9 250.0 980.0C254.6 982.1 263.3 984.3 270.0 987.5C276.7 990.7 283.3 995.4 290.0 999.0C296.7 1002.6 304.2 1007.3 310.0 1009.0C315.8 1010.7 320.4 1010.1 325.0 1009.0C329.6 1007.9 335.4 1003.6 337.5 1002.5" fill="none" stroke="#fff" stroke-width="3.7" stroke-linejoin="round" stroke-linecap="butt"/><path d="M231.0 869.0C233.3 870.0 240.2 871.9 245.0 875.0C249.8 878.1 256.0 882.9 260.0 887.5C264.0 892.1 267.2 897.1 269.0 902.5C270.8 907.9 271.0 914.2 270.5 920.0C270.0 925.8 267.9 933.3 266.0 937.5C264.1 941.7 261.7 942.5 259.0 945.0C256.3 947.5 253.2 949.8 250.0 952.5C246.8 955.2 242.3 958.2 240.0 961.0C237.7 963.8 235.6 966.7 236.0 969.0C236.4 971.3 241.4 974.0 242.5 975.0" fill="none" stroke="#8c8c8c" stroke-width="8.7" stroke-linejoin="round" stroke-linecap="butt"/><path d="M231.0 869.0C233.3 870.0 240.2 871.9 245.0 875.0C249.8 878.1 256.0 882.9 260.0 887.5C264.0 892.1 267.2 897.1 269.0 902.5C270.8 907.9 271.0 914.2 270.5 920.0C270.0 925.8 267.9 933.3 266.0 937.5C264.1 941.7 261.7 942.5 259.0 945.0C256.3 947.5 253.2 949.8 250.0 952.5C246.8 955.2 242.3 958.2 240.0 961.0C237.7 963.8 235.6 966.7 236.0 969.0C236.4 971.3 241.4 974.0 242.5 975.0" fill="none" stroke="#fff" stroke-width="6.9" stroke-linejoin="round" stroke-linecap="butt"/><path d="M337.5 1002.5C339.6 1001.9 345.4 999.7 350.0 999.0C354.6 998.3 359.2 998.3 365.0 998.5C370.8 998.7 377.7 1000.3 385.0 1000.0C392.3 999.7 404.8 997.1 408.8 996.5" fill="none" stroke="#8c8c8c" stroke-width="7.9" stroke-linejoin="round" stroke-linecap="butt"/><path d="M337.5 1002.5C339.6 1001.9 345.4 999.7 350.0 999.0C354.6 998.3 359.2 998.3 365.0 998.5C370.8 998.7 377.7 1000.3 385.0 1000.0C392.3 999.7 404.8 997.1 408.8 996.5" fill="none" stroke="#fff" stroke-width="6.1" stroke-linejoin="round" stroke-linecap="butt"/><path d="M210.0 861.0L223.8 866.0" fill="none" stroke="#8c8c8c" stroke-width="4.8" stroke-linejoin="round" stroke-linecap="round"/><path d="M210.0 861.0L223.8 866.0" fill="none" stroke="#fff" stroke-width="3.0" stroke-linejoin="round" stroke-linecap="round"/><ellipse cx="227.0" cy="868.0" rx="3.4" ry="7.0" transform="rotate(25 227.0 868.0)" fill="#fff" stroke="#8c8c8c" stroke-width="0.9"/><ellipse cx="228.5" cy="868.8" rx="2.4" ry="5.5" transform="rotate(25 228.5 868.8)" fill="#fff" stroke="#8c8c8c" stroke-width="0.9"/><path d="M240.5 963.8L246.2 951.2L250.0 952.5L252.0 962.5L252.5 972.5L248.8 977.5L242.5 980.0L240.5 975.0Z" fill="#fff" stroke="#8c8c8c" stroke-width="0.9" stroke-linejoin="round"/><path d="M240.5 963.8L246.2 966.2L252.0 962.5" fill="none" stroke="#8c8c8c" stroke-width="0.9" stroke-linejoin="round" stroke-linecap="round"/><path d="M246.2 966.2L247.0 978.0" fill="none" stroke="#8c8c8c" stroke-width="0.9" stroke-linejoin="round" stroke-linecap="round"/><path d="M266.2 980.0L271.2 975.0L277.5 976.2L279.0 986.2L277.5 993.8L270.0 996.2L266.5 990.0Z" fill="#fff" stroke="#8c8c8c" stroke-width="0.9" stroke-linejoin="round"/><path d="M266.2 980.0L272.5 983.8L279.0 981.2" fill="none" stroke="#8c8c8c" stroke-width="0.9" stroke-linejoin="round" stroke-linecap="round"/><path d="M272.5 983.8L273.0 995.5" fill="none" stroke="#8c8c8c" stroke-width="0.9" stroke-linejoin="round" stroke-linecap="round"/><path d="M333.0 990.5L338.8 987.5L345.0 991.2L346.5 1005.0L342.5 1008.0L336.2 1006.2L335.0 998.8Z" fill="#fff" stroke="#8c8c8c" stroke-width="0.9" stroke-linejoin="round"/><path d="M338.8 987.5L340.5 1007.0" fill="none" stroke="#8c8c8c" stroke-width="0.9" stroke-linejoin="round" stroke-linecap="round"/><path d="M314.5 1007.0L316.5 1015.5" fill="none" stroke="#8c8c8c" stroke-width="0.9" stroke-linejoin="round" stroke-linecap="round"/><path d="M318.0 1006.5L319.5 1014.5" fill="none" stroke="#8c8c8c" stroke-width="0.9" stroke-linejoin="round" stroke-linecap="round"/><path d="M311.2 1017.0L315.5 1014.5L321.2 1016.2L321.0 1020.0L316.2 1023.0L312.0 1020.5Z" fill="#fff" stroke="#8c8c8c" stroke-width="0.9" stroke-linejoin="round"/><ellipse cx="316.5" cy="1018.5" rx="1.8" ry="1.4" transform="rotate(0 316.5 1018.5)" fill="#fff" stroke="#8c8c8c" stroke-width="0.9"/></g><g transform="translate(278.0 331.0)"><path d="M212.5 287.5C215.0 289.6 220.6 294.6 227.5 300.0C234.4 305.4 244.8 314.3 254.0 320.0C263.2 325.7 273.6 331.3 282.5 334.0C291.4 336.7 300.4 334.3 307.5 336.0C314.6 337.7 320.6 342.1 325.0 344.0C329.4 345.9 332.5 346.9 334.0 347.5" fill="none" stroke="#8c8c8c" stroke-width="6.3" stroke-linejoin="round" stroke-linecap="butt"/><path d="M212.5 287.5C215.0 289.6 220.6 294.6 227.5 300.0C234.4 305.4 244.8 314.3 254.0 320.0C263.2 325.7 273.6 331.3 282.5 334.0C291.4 336.7 300.4 334.3 307.5 336.0C314.6 337.7 320.6 342.1 325.0 344.0C329.4 345.9 332.5 346.9 334.0 347.5" fill="none" stroke="#fff" stroke-width="4.5" stroke-linejoin="round" stroke-linecap="butt"/></g><g transform="translate(273.0 296.0)"><path d="M492.8 383.5L498.6 378.6L508.8 379.0L506.3 383.5L498.6 388.6Z" fill="#fff" stroke="#8f8f8f" stroke-width="0.9" stroke-linejoin="round"/><path d="M468.5 399.5L474.2 394.7L484.5 396.3L478.1 402.7Z" fill="#fff" stroke="#8f8f8f" stroke-width="0.9" stroke-linejoin="round"/><path d="M524.2 425.1L531.9 419.4L538.3 420.6L539.0 425.1L533.2 429.0L526.8 428.3Z" fill="#fff" stroke="#8f8f8f" stroke-width="0.9" stroke-linejoin="round"/><ellipse cx="532.6" cy="424.2" rx="1.6" ry="1.3" transform="rotate(0 532.6 424.2)" fill="#fff" stroke="#8f8f8f" stroke-width="0.8"/><path d="M467.8 422.6L471.7 418.7L522.9 384.7L531.9 384.7L555.0 400.1L556.3 404.6L499.9 440.5L493.5 441.2L469.1 427.7Z" fill="#fff" stroke="#8f8f8f" stroke-width="0.8" stroke-linejoin="round"/><path d="M467.8 420.6L471.7 416.8L522.9 382.8L531.9 382.8L555.0 398.2L556.3 402.7L499.9 438.6L493.5 439.2L469.1 425.8Z" fill="#fff" stroke="#8f8f8f" stroke-width="0.8" stroke-linejoin="round"/><path d="M467.8 418.8L471.7 415.0L522.9 381.0L531.9 381.0L555.0 396.4L556.3 400.9L499.9 436.8L493.5 437.4L469.1 424.0Z" fill="#fff" stroke="#8f8f8f" stroke-width="0.8" stroke-linejoin="round"/><path d="M467.8 417.1L471.7 413.2L522.9 379.2L531.9 379.2L555.0 394.6L556.3 399.1L499.9 435.0L493.5 435.6L469.1 422.2Z" fill="#fff" stroke="#8f8f8f" stroke-width="0.8" stroke-linejoin="round"/><path d="M467.8 415.3L471.7 411.4L522.9 377.4L531.9 377.4L555.0 392.8L556.3 397.3L499.9 433.2L493.5 433.8L469.1 420.4Z" fill="#fff" stroke="#8f8f8f" stroke-width="0.8" stroke-linejoin="round"/><path d="M467.8 413.5L471.7 409.6L522.9 375.6L531.9 375.6L555.0 391.0L556.3 395.5L499.9 431.4L493.5 432.1L469.1 418.6Z" fill="#fff" stroke="#8f8f8f" stroke-width="0.8" stroke-linejoin="round"/><path d="M467.8 411.7L471.7 407.8L522.9 373.8L531.9 373.8L555.0 389.2L556.3 393.7L499.9 429.6L493.5 430.3L469.1 416.8Z" fill="#fff" stroke="#8f8f8f" stroke-width="0.9" stroke-linejoin="round"/><path d="M471.0 412.9L523.6 377.7L531.3 377.7L552.4 391.2" fill="none" stroke="#8f8f8f" stroke-width="0.7" stroke-linejoin="round" stroke-linecap="round"/><ellipse cx="529.0" cy="381.5" rx="5.1" ry="2.5" transform="rotate(0 529.0 381.5)" fill="#fff" stroke="#8f8f8f" stroke-width="0.9"/><path d="M524.9 381.5L524.9 370.9L525.7 369.4L525.7 358.2L529.0 356.4L532.3 358.2L532.3 369.4L533.1 370.9L533.1 381.5" fill="#fff" stroke="#8f8f8f" stroke-width="0.9" stroke-linejoin="round" stroke-linecap="round"/><path d="M524.9 370.9L533.1 370.9" fill="none" stroke="#8f8f8f" stroke-width="0.8" stroke-linejoin="round" stroke-linecap="round"/><ellipse cx="545.4" cy="391.8" rx="3.8" ry="1.8" transform="rotate(0 545.4 391.8)" fill="#fff" stroke="#8f8f8f" stroke-width="0.9"/><path d="M542.3 391.8L542.3 382.1L542.9 380.6L542.9 370.4L545.4 368.6L547.8 370.4L547.8 380.6L548.5 382.1L548.5 391.8" fill="#fff" stroke="#8f8f8f" stroke-width="0.9" stroke-linejoin="round" stroke-linecap="round"/><path d="M542.3 382.1L548.5 382.1" fill="none" stroke="#8f8f8f" stroke-width="0.8" stroke-linejoin="round" stroke-linecap="round"/><ellipse cx="478.1" cy="414.9" rx="4.5" ry="2.2" transform="rotate(0 478.1 414.9)" fill="#fff" stroke="#8f8f8f" stroke-width="0.9"/><path d="M474.5 414.9L474.5 404.2L475.2 402.7L475.2 391.5L478.1 389.7L480.9 391.5L480.9 402.7L481.7 404.2L481.7 414.9" fill="#fff" stroke="#8f8f8f" stroke-width="0.9" stroke-linejoin="round" stroke-linecap="round"/><path d="M474.5 404.2L481.7 404.2" fill="none" stroke="#8f8f8f" stroke-width="0.8" stroke-linejoin="round" stroke-linecap="round"/><ellipse cx="493.5" cy="425.8" rx="3.8" ry="1.8" transform="rotate(0 493.5 425.8)" fill="#fff" stroke="#8f8f8f" stroke-width="0.9"/><path d="M490.4 425.8L490.4 416.5L491.0 415.0L491.0 405.3L493.5 403.5L495.9 405.3L495.9 415.0L496.5 416.5L496.5 425.8" fill="#fff" stroke="#8f8f8f" stroke-width="0.9" stroke-linejoin="round" stroke-linecap="round"/><path d="M490.4 416.5L496.5 416.5" fill="none" stroke="#8f8f8f" stroke-width="0.8" stroke-linejoin="round" stroke-linecap="round"/></g><path d="M614.0 609.0L627.0 604.0L647.0 619.0L662.0 637.0L672.0 640.0L662.0 650.0L647.0 647.0L627.0 632.0Z" fill="none" stroke="#8f8f8f" stroke-width="0.9" stroke-linejoin="round"/><ellipse cx="632.0" cy="627.0" rx="3.0" ry="3.4" transform="rotate(0 632.0 627.0)" fill="#fff" stroke="#8f8f8f" stroke-width="0.9"/><ellipse cx="632.0" cy="627.0" rx="1.6" ry="1.9" transform="rotate(0 632.0 627.0)" fill="#fff" stroke="#8f8f8f" stroke-width="0.8"/><path d="M737.8 680.8L743.3 675.2L751.6 677.1L755.2 684.5L758.9 693.7L758.9 701.0L753.4 706.6L744.2 708.4L736.8 704.7L733.1 697.3L739.6 693.7Z" fill="#fff" stroke="#8f8f8f" stroke-width="0.9" stroke-linejoin="round"/><path d="M741.4 682.6L746.0 677.1L752.5 680.8L753.4 691.8L743.3 693.7Z" fill="#fff" stroke="#8f8f8f" stroke-width="0.9" stroke-linejoin="round"/><ellipse cx="748.3" cy="696.4" rx="8.5" ry="3.4" transform="rotate(5 748.3 696.4)" fill="#fff" stroke="#8f8f8f" stroke-width="0.9"/><path d="M725.8 692.7L733.1 690.9L736.8 699.2L735.9 706.6L727.6 701.0Z" fill="#fff" stroke="#8f8f8f" stroke-width="0.9" stroke-linejoin="round"/><path d="M718.4 736.0L727.6 730.5L735.0 729.6L733.1 737.9L739.6 734.2L738.7 743.4L746.0 739.7L745.1 747.1L751.6 732.3L762.6 728.7" fill="none" stroke="#8f8f8f" stroke-width="0.9" stroke-linejoin="round" stroke-linecap="round"/><path d="M797.6 723.1L803.1 717.6L812.3 718.5L813.3 725.0L807.7 730.5L800.4 728.7Z" fill="#fff" stroke="#8f8f8f" stroke-width="0.9" stroke-linejoin="round"/><ellipse cx="806.4" cy="721.7" rx="3.0" ry="2.6" transform="rotate(0 806.4 721.7)" fill="#fff" stroke="#8f8f8f" stroke-width="0.9"/><g transform="translate(272.0 348.0)"><path d="M440.0 317.5C437.5 319.6 428.8 325.4 425.0 330.0C421.2 334.6 419.0 339.0 417.5 345.0C416.0 351.0 416.2 362.5 416.0 366.0" fill="none" stroke="#8c8c8c" stroke-width="7.4" stroke-linejoin="round" stroke-linecap="butt"/><path d="M440.0 317.5C437.5 319.6 428.8 325.4 425.0 330.0C421.2 334.6 419.0 339.0 417.5 345.0C416.0 351.0 416.2 362.5 416.0 366.0" fill="none" stroke="#fff" stroke-width="5.6" stroke-linejoin="round" stroke-linecap="butt"/><path d="M238.7 268.7C240.6 270.8 246.3 277.6 250.0 281.0C253.7 284.4 255.2 286.8 261.0 289.0C266.8 291.2 276.8 291.2 285.0 294.0C293.2 296.8 300.8 301.2 310.0 306.0C319.2 310.8 330.8 317.8 340.0 322.5C349.2 327.2 357.5 331.2 365.0 334.0C372.5 336.8 378.4 338.8 385.0 339.0C391.6 339.2 397.4 338.6 404.5 335.0C411.6 331.4 420.3 321.0 427.5 317.5C434.7 314.0 442.2 314.5 447.5 314.0C452.8 313.5 454.8 314.5 459.0 314.5C463.2 314.5 468.8 314.3 472.5 314.0C476.2 313.7 477.2 313.0 481.0 312.5C484.8 312.0 490.6 312.1 495.0 311.0C499.4 309.9 503.8 307.7 507.5 306.0C511.2 304.3 515.8 301.8 517.5 301.0" fill="none" stroke="#8c8c8c" stroke-width="7.2" stroke-linejoin="round" stroke-linecap="butt"/><path d="M238.7 268.7C240.6 270.8 246.3 277.6 250.0 281.0C253.7 284.4 255.2 286.8 261.0 289.0C266.8 291.2 276.8 291.2 285.0 294.0C293.2 296.8 300.8 301.2 310.0 306.0C319.2 310.8 330.8 317.8 340.0 322.5C349.2 327.2 357.5 331.2 365.0 334.0C372.5 336.8 378.4 338.8 385.0 339.0C391.6 339.2 397.4 338.6 404.5 335.0C411.6 331.4 420.3 321.0 427.5 317.5C434.7 314.0 442.2 314.5 447.5 314.0C452.8 313.5 454.8 314.5 459.0 314.5C463.2 314.5 468.8 314.3 472.5 314.0C476.2 313.7 477.2 313.0 481.0 312.5C484.8 312.0 490.6 312.1 495.0 311.0C499.4 309.9 503.8 307.7 507.5 306.0C511.2 304.3 515.8 301.8 517.5 301.0" fill="none" stroke="#fff" stroke-width="5.4" stroke-linejoin="round" stroke-linecap="butt"/><path d="M190.0 262.5L197.5 272.5" fill="none" stroke="#8c8c8c" stroke-width="0.9" stroke-linejoin="round" stroke-linecap="round"/><path d="M197.0 274.5C198.3 273.8 202.4 270.6 205.0 270.5C207.6 270.4 210.8 272.0 212.5 273.8C214.2 275.5 215.2 279.2 215.0 281.2C214.8 283.3 211.2 285.0 211.2 286.2C211.2 287.5 215.0 287.5 215.0 288.8C215.0 290.0 212.8 293.8 211.2 293.8C209.7 293.8 207.4 289.2 205.5 288.8C203.6 288.3 201.7 291.9 200.0 291.2C198.3 290.6 196.3 287.1 195.5 285.0C194.7 282.9 194.8 280.5 195.0 278.8C195.2 277.0 196.7 275.2 197.0 274.5" fill="#fff" stroke="#8c8c8c" stroke-width="0.9" stroke-linejoin="round"/><path d="M205.5 288.8L208.8 281.2L215.0 281.2" fill="none" stroke="#8c8c8c" stroke-width="0.9" stroke-linejoin="round" stroke-linecap="round"/><path d="M222.0 250.5L228.0 247.0L233.0 253.0L226.5 257.0Z" fill="#fff" stroke="#8c8c8c" stroke-width="0.9" stroke-linejoin="round"/><path d="M226.0 257.0L233.0 252.5L238.5 259.5L231.0 264.0Z" fill="#fff" stroke="#8c8c8c" stroke-width="0.9" stroke-linejoin="round"/><path d="M230.0 264.5L237.5 259.5L243.0 266.5L235.5 271.5Z" fill="#fff" stroke="#8c8c8c" stroke-width="0.9" stroke-linejoin="round"/><path d="M217.5 240.0L223.8 250.0" fill="none" stroke="#8c8c8c" stroke-width="0.9" stroke-linejoin="round" stroke-linecap="round"/><path d="M333.8 341.2L340.0 340.0L343.0 347.0L357.0 352.0L359.0 357.5L355.0 360.5L341.2 354.5L337.5 353.8L332.5 347.5Z" fill="#fff" stroke="#8c8c8c" stroke-width="0.9" stroke-linejoin="round"/><path d="M340.0 340.0L337.5 353.8" fill="none" stroke="#8c8c8c" stroke-width="0.9" stroke-linejoin="round" stroke-linecap="round"/><path d="M343.0 347.0L341.2 354.5" fill="none" stroke="#8c8c8c" stroke-width="0.9" stroke-linejoin="round" stroke-linecap="round"/><path d="M355.0 352.5L353.8 359.5" fill="none" stroke="#8c8c8c" stroke-width="0.9" stroke-linejoin="round" stroke-linecap="round"/><path d="M458.0 309.5L464.5 309.0L465.5 320.0L459.5 320.5Z" fill="#fff" stroke="#8c8c8c" stroke-width="0.9" stroke-linejoin="round"/><path d="M461.2 309.2L462.5 320.2" fill="none" stroke="#8c8c8c" stroke-width="0.9" stroke-linejoin="round" stroke-linecap="round"/><path d="M480.5 307.5L486.5 306.5L488.0 318.0L482.0 319.0Z" fill="#fff" stroke="#8c8c8c" stroke-width="0.9" stroke-linejoin="round"/><path d="M483.5 307.0L485.0 318.5" fill="none" stroke="#8c8c8c" stroke-width="0.9" stroke-linejoin="round" stroke-linecap="round"/><path d="M412.0 365.5L423.5 365.5L423.0 373.8L412.5 373.8Z" fill="#fff" stroke="#8c8c8c" stroke-width="0.9" stroke-linejoin="round"/><path d="M412.0 368.2L423.5 368.2" fill="none" stroke="#8c8c8c" stroke-width="0.9" stroke-linejoin="round" stroke-linecap="round"/><path d="M412.0 371.0L423.5 371.0" fill="none" stroke="#8c8c8c" stroke-width="0.9" stroke-linejoin="round" stroke-linecap="round"/><path d="M410.5 374.5L418.0 373.0L425.0 375.0L425.0 386.2L418.0 390.0L410.5 387.0Z" fill="#fff" stroke="#8c8c8c" stroke-width="0.9" stroke-linejoin="round"/><path d="M410.5 376.2L418.0 378.8L425.0 376.2" fill="none" stroke="#8c8c8c" stroke-width="0.9" stroke-linejoin="round" stroke-linecap="round"/><path d="M418.0 378.8L418.0 390.0" fill="none" stroke="#8c8c8c" stroke-width="0.9" stroke-linejoin="round" stroke-linecap="round"/><path d="M515.0 300.0L520.0 297.0L522.0 305.0L517.5 308.0Z" fill="#fff" stroke="#8c8c8c" stroke-width="0.9" stroke-linejoin="round"/><path d="M521.2 298.8L526.2 296.2L533.8 298.0L537.0 305.0L537.5 321.2L530.0 323.8L520.5 318.8L520.0 308.8L522.5 305.0Z" fill="#fff" stroke="#8c8c8c" stroke-width="0.9" stroke-linejoin="round"/><path d="M526.2 305.0L536.2 306.2" fill="none" stroke="#8c8c8c" stroke-width="0.9" stroke-linejoin="round" stroke-linecap="round"/><path d="M526.2 305.0L525.0 296.2" fill="none" stroke="#8c8c8c" stroke-width="0.9" stroke-linejoin="round" stroke-linecap="round"/><path d="M530.0 317.0L534.5 315.8L535.0 319.5L530.5 320.8Z" fill="#fff" stroke="#8c8c8c" stroke-width="0.9" stroke-linejoin="round"/></g><g transform="translate(142.0 -293.0)"><path d="M517.5 1012.5C520.0 1014.2 527.9 1019.6 532.5 1022.5C537.1 1025.4 541.1 1027.9 545.0 1030.0C548.9 1032.1 554.2 1034.2 556.0 1035.0" fill="none" stroke="#8c8c8c" stroke-width="5.5" stroke-linejoin="round" stroke-linecap="butt"/><path d="M517.5 1012.5C520.0 1014.2 527.9 1019.6 532.5 1022.5C537.1 1025.4 541.1 1027.9 545.0 1030.0C548.9 1032.1 554.2 1034.2 556.0 1035.0" fill="none" stroke="#fff" stroke-width="3.7" stroke-linejoin="round" stroke-linecap="butt"/><path d="M556.0 1035.0C559.2 1037.5 569.8 1045.0 575.0 1050.0C580.2 1055.0 584.5 1060.3 587.5 1065.0C590.5 1069.7 592.2 1073.8 593.0 1078.0C593.8 1082.2 593.2 1085.1 592.0 1090.0C590.8 1094.9 588.0 1100.8 586.0 1107.5C584.0 1114.2 581.8 1123.3 580.0 1130.0C578.2 1136.7 577.5 1142.1 575.0 1147.5C572.5 1152.9 569.2 1158.1 565.0 1162.5C560.8 1166.9 555.0 1171.8 550.0 1174.0C545.0 1176.2 540.0 1176.2 535.0 1176.0C530.0 1175.8 524.6 1173.5 520.0 1172.5C515.4 1171.5 510.8 1170.0 507.5 1170.0C504.2 1170.0 503.8 1172.1 500.0 1172.5C496.2 1172.9 489.6 1173.3 485.0 1172.5C480.4 1171.7 474.6 1168.3 472.5 1167.5" fill="none" stroke="#8c8c8c" stroke-width="7.7" stroke-linejoin="round" stroke-linecap="butt"/><path d="M556.0 1035.0C559.2 1037.5 569.8 1045.0 575.0 1050.0C580.2 1055.0 584.5 1060.3 587.5 1065.0C590.5 1069.7 592.2 1073.8 593.0 1078.0C593.8 1082.2 593.2 1085.1 592.0 1090.0C590.8 1094.9 588.0 1100.8 586.0 1107.5C584.0 1114.2 581.8 1123.3 580.0 1130.0C578.2 1136.7 577.5 1142.1 575.0 1147.5C572.5 1152.9 569.2 1158.1 565.0 1162.5C560.8 1166.9 555.0 1171.8 550.0 1174.0C545.0 1176.2 540.0 1176.2 535.0 1176.0C530.0 1175.8 524.6 1173.5 520.0 1172.5C515.4 1171.5 510.8 1170.0 507.5 1170.0C504.2 1170.0 503.8 1172.1 500.0 1172.5C496.2 1172.9 489.6 1173.3 485.0 1172.5C480.4 1171.7 474.6 1168.3 472.5 1167.5" fill="none" stroke="#fff" stroke-width="5.9" stroke-linejoin="round" stroke-linecap="butt"/><path d="M495.1 1001.0L498.7 995.7L505.0 992.1L511.3 994.2L515.5 998.4L516.6 1006.2L513.4 1009.4L512.4 1015.7L505.0 1016.2L496.6 1011.5L495.1 1007.3Z" fill="#fff" stroke="#8c8c8c" stroke-width="0.9" stroke-linejoin="round"/><path d="M498.7 995.7L502.9 1005.2L505.0 1016.2" fill="none" stroke="#8c8c8c" stroke-width="0.9" stroke-linejoin="round" stroke-linecap="round"/><path d="M502.9 1005.2L507.1 999.9L513.4 1001.0" fill="none" stroke="#8c8c8c" stroke-width="0.9" stroke-linejoin="round" stroke-linecap="round"/><path d="M496.6 1006.7L500.3 1007.8L500.8 1012.0L497.2 1010.9Z" fill="#b5b5b5" stroke="#8c8c8c" stroke-width="0.8" stroke-linejoin="round"/><path d="M510.3 996.8L513.4 997.8L514.0 1000.5L511.3 999.9Z" fill="#b5b5b5" stroke="#8c8c8c" stroke-width="0.8" stroke-linejoin="round"/><ellipse cx="515.0" cy="1011.5" rx="3.2" ry="5.5" transform="rotate(30 515.0 1011.5)" fill="#fff" stroke="#8c8c8c" stroke-width="0.9"/><ellipse cx="515.7" cy="1011.9" rx="2.2" ry="4.4" transform="rotate(30 515.7 1011.9)" fill="#fff" stroke="#8c8c8c" stroke-width="0.9"/><path d="M541.2 1027.0L550.0 1023.8L553.0 1031.2L550.0 1037.5L543.8 1035.0Z" fill="#fff" stroke="#8c8c8c" stroke-width="0.9" stroke-linejoin="round"/><path d="M550.0 1023.8L558.0 1025.5" fill="none" stroke="#8c8c8c" stroke-width="0.9" stroke-linejoin="round" stroke-linecap="round"/><ellipse cx="558.0" cy="1025.8" rx="1.3" ry="1.3" transform="rotate(0 558.0 1025.8)" fill="#fff" stroke="#8c8c8c" stroke-width="0.9"/><path d="M570.5 1073.8L578.8 1070.0L585.0 1072.0L583.8 1077.5L576.2 1082.5L572.5 1080.0Z" fill="#fff" stroke="#8c8c8c" stroke-width="0.9" stroke-linejoin="round"/><path d="M583.8 1073.0L596.2 1070.0" fill="none" stroke="#8c8c8c" stroke-width="0.9" stroke-linejoin="round" stroke-linecap="round"/><path d="M592.5 1069.5L597.0 1068.0L598.0 1072.5L594.0 1074.0Z" fill="#fff" stroke="#8c8c8c" stroke-width="0.9" stroke-linejoin="round"/><path d="M555.5 1140.0L560.0 1136.2L566.2 1143.0L562.5 1148.0L557.0 1146.2Z" fill="#fff" stroke="#8c8c8c" stroke-width="0.9" stroke-linejoin="round"/><path d="M565.5 1144.5L578.8 1148.8L580.0 1153.0L575.0 1153.8L565.0 1148.8Z" fill="#fff" stroke="#8c8c8c" stroke-width="0.9" stroke-linejoin="round"/><path d="M460.0 1167.5L465.0 1162.5L472.5 1163.8L475.0 1170.0L471.2 1175.0L475.0 1180.0L473.8 1187.5L465.0 1190.0L459.5 1185.0L458.8 1176.2L462.5 1173.0Z" fill="#fff" stroke="#8c8c8c" stroke-width="0.9" stroke-linejoin="round"/><path d="M462.5 1173.0L471.2 1175.0" fill="none" stroke="#8c8c8c" stroke-width="0.9" stroke-linejoin="round" stroke-linecap="round"/><path d="M460.0 1178.8L475.0 1180.0" fill="none" stroke="#8c8c8c" stroke-width="0.9" stroke-linejoin="round" stroke-linecap="round"/><path d="M462.0 1183.8L468.0 1184.5L468.0 1188.0L462.5 1187.5Z" fill="#fff" stroke="#8c8c8c" stroke-width="0.9" stroke-linejoin="round"/><path d="M467.0 1163.8L470.0 1173.8" fill="none" stroke="#8c8c8c" stroke-width="0.9" stroke-linejoin="round" stroke-linecap="round"/></g><g transform="translate(174.0 -295.0)"><path d="M466.0 1002.5C468.3 1004.2 475.6 1007.9 480.0 1012.5C484.4 1017.1 488.3 1024.6 492.5 1030.0C496.7 1035.4 500.0 1040.8 505.0 1045.0C510.0 1049.2 516.7 1052.5 522.5 1055.0C528.3 1057.5 535.8 1057.5 540.0 1060.0C544.2 1062.5 546.3 1065.8 548.0 1070.0C549.7 1074.2 549.8 1080.8 550.0 1085.0C550.2 1089.2 550.2 1090.0 549.0 1095.0C547.8 1100.0 545.7 1108.3 542.5 1115.0C539.3 1121.7 534.6 1129.8 530.0 1135.0C525.4 1140.2 520.0 1143.5 515.0 1146.0C510.0 1148.5 505.0 1150.0 500.0 1150.0C495.0 1150.0 490.0 1148.3 485.0 1146.0C480.0 1143.7 474.6 1138.8 470.0 1136.0C465.4 1133.2 461.7 1130.2 457.5 1129.0C453.3 1127.8 448.8 1127.8 445.0 1129.0C441.2 1130.2 438.2 1132.5 435.0 1136.0C431.8 1139.5 428.3 1145.3 426.0 1150.0C423.7 1154.7 421.8 1161.7 421.0 1164.0" fill="none" stroke="#8c8c8c" stroke-width="8.7" stroke-linejoin="round" stroke-linecap="butt"/><path d="M466.0 1002.5C468.3 1004.2 475.6 1007.9 480.0 1012.5C484.4 1017.1 488.3 1024.6 492.5 1030.0C496.7 1035.4 500.0 1040.8 505.0 1045.0C510.0 1049.2 516.7 1052.5 522.5 1055.0C528.3 1057.5 535.8 1057.5 540.0 1060.0C544.2 1062.5 546.3 1065.8 548.0 1070.0C549.7 1074.2 549.8 1080.8 550.0 1085.0C550.2 1089.2 550.2 1090.0 549.0 1095.0C547.8 1100.0 545.7 1108.3 542.5 1115.0C539.3 1121.7 534.6 1129.8 530.0 1135.0C525.4 1140.2 520.0 1143.5 515.0 1146.0C510.0 1148.5 505.0 1150.0 500.0 1150.0C495.0 1150.0 490.0 1148.3 485.0 1146.0C480.0 1143.7 474.6 1138.8 470.0 1136.0C465.4 1133.2 461.7 1130.2 457.5 1129.0C453.3 1127.8 448.8 1127.8 445.0 1129.0C441.2 1130.2 438.2 1132.5 435.0 1136.0C431.8 1139.5 428.3 1145.3 426.0 1150.0C423.7 1154.7 421.8 1161.7 421.0 1164.0" fill="none" stroke="#fff" stroke-width="6.9" stroke-linejoin="round" stroke-linecap="butt"/><path d="M443.1 990.0L445.8 987.6L454.2 992.6L456.8 992.1L460.5 995.7L459.4 1001.5L455.7 1001.0L453.1 997.8L444.2 993.6Z" fill="#fff" stroke="#8c8c8c" stroke-width="0.9" stroke-linejoin="round"/><path d="M454.2 992.6L453.1 997.8" fill="none" stroke="#8c8c8c" stroke-width="0.9" stroke-linejoin="round" stroke-linecap="round"/><ellipse cx="464.3" cy="1001.5" rx="4.2" ry="7.2" transform="rotate(30 464.3 1001.5)" fill="#fff" stroke="#8c8c8c" stroke-width="0.9"/><ellipse cx="465.2" cy="1001.8" rx="3.0" ry="5.6" transform="rotate(30 465.2 1001.8)" fill="#fff" stroke="#8c8c8c" stroke-width="0.9"/><path d="M490.5 1150.0L496.2 1148.0L498.0 1155.0L492.0 1157.0Z" fill="#fff" stroke="#8c8c8c" stroke-width="0.9" stroke-linejoin="round"/><path d="M490.5 1160.0L498.0 1158.8L500.0 1167.5L496.2 1170.5L490.5 1167.5Z" fill="#fff" stroke="#8c8c8c" stroke-width="0.9" stroke-linejoin="round"/><path d="M493.8 1157.0L493.8 1160.0" fill="none" stroke="#8c8c8c" stroke-width="0.9" stroke-linejoin="round" stroke-linecap="round"/><path d="M415.5 1167.5C416.5 1166.9 418.9 1163.8 421.2 1163.8C423.6 1163.7 427.7 1165.1 429.5 1167.0C431.3 1168.9 431.5 1171.8 432.0 1175.0C432.5 1178.2 433.5 1183.4 432.5 1186.2C431.5 1189.1 428.7 1191.3 426.2 1192.0C423.8 1192.7 420.1 1192.5 418.0 1190.5C415.9 1188.5 414.3 1183.0 413.8 1180.0C413.2 1177.0 414.2 1174.6 414.5 1172.5C414.8 1170.4 415.3 1168.3 415.5 1167.5" fill="#fff" stroke="#8c8c8c" stroke-width="0.9" stroke-linejoin="round"/><path d="M415.0 1173.0C416.2 1173.5 419.8 1176.1 422.5 1176.2C425.2 1176.4 430.0 1174.2 431.5 1173.8" fill="none" stroke="#8c8c8c" stroke-width="0.9" stroke-linejoin="round" stroke-linecap="round"/><path d="M416.5 1165.5C417.8 1166.2 421.8 1169.3 424.0 1169.5C426.2 1169.7 429.0 1167.0 430.0 1166.5" fill="none" stroke="#8c8c8c" stroke-width="0.9" stroke-linejoin="round" stroke-linecap="round"/></g><path d="M620.9 865.4C622.6 864.7 627.0 861.8 630.7 861.2C634.5 860.6 638.9 862.4 643.3 861.9C647.8 861.4 655.0 859.0 657.3 858.4" fill="none" stroke="#8f8f8f" stroke-width="4.5" stroke-linejoin="round" stroke-linecap="butt"/><path d="M620.9 865.4C622.6 864.7 627.0 861.8 630.7 861.2C634.5 860.6 638.9 862.4 643.3 861.9C647.8 861.4 655.0 859.0 657.3 858.4" fill="none" stroke="#fff" stroke-width="2.7" stroke-linejoin="round" stroke-linecap="butt"/><path d="M602.8 864.0C605.3 863.9 613.5 862.6 618.1 863.3C622.8 864.0 626.5 866.3 630.7 868.2C634.9 870.0 638.9 874.0 643.3 874.5C647.8 874.9 655.0 871.6 657.3 871.0" fill="none" stroke="#8f8f8f" stroke-width="4.0" stroke-linejoin="round" stroke-linecap="butt"/><path d="M602.8 864.0C605.3 863.9 613.5 862.6 618.1 863.3C622.8 864.0 626.5 866.3 630.7 868.2C634.9 870.0 638.9 874.0 643.3 874.5C647.8 874.9 655.0 871.6 657.3 871.0" fill="none" stroke="#fff" stroke-width="2.2" stroke-linejoin="round" stroke-linecap="butt"/><path d="M647.5 875.2L662.9 871.0L664.3 885.0L661.5 890.6L650.3 889.2Z" fill="#fff" stroke="#8f8f8f" stroke-width="0.9" stroke-linejoin="round"/><path d="M657.3 857.0L662.9 854.2L665.0 861.2L662.9 875.2L658.0 875.9Z" fill="#fff" stroke="#8f8f8f" stroke-width="0.9" stroke-linejoin="round"/><path d="M580.4 901.7L581.8 915.7L586.0 920.6L593.0 922.7L595.1 928.3L590.2 935.3L584.6 939.5L584.6 947.9L588.8 952.8L601.4 962.6L612.6 970.3L623.7 976.6L630.7 980.1L637.7 975.9L643.3 947.9L637.7 919.9L625.1 915.7L607.0 905.9L593.0 899.0Z" fill="#fff" stroke="#8f8f8f" stroke-width="0.9" stroke-linejoin="round"/><path d="M586.0 946.5C588.5 945.3 596.9 941.6 601.4 939.5C605.8 937.4 610.8 935.8 612.6 933.9C614.3 932.1 612.0 929.3 611.9 928.3" fill="none" stroke="#8f8f8f" stroke-width="0.8" stroke-linejoin="round" stroke-linecap="round"/><path d="M597.2 915.7C597.6 917.8 597.5 925.3 600.0 928.3C602.4 931.4 609.9 933.0 611.9 933.9" fill="none" stroke="#8f8f8f" stroke-width="0.8" stroke-linejoin="round" stroke-linecap="round"/><path d="M590.2 935.3C591.8 935.1 597.2 933.2 600.0 933.9C602.8 934.6 605.8 938.6 607.0 939.5" fill="none" stroke="#8f8f8f" stroke-width="0.8" stroke-linejoin="round" stroke-linecap="round"/><path d="M601.4 962.6C602.3 960.8 605.3 954.5 607.0 952.1C608.6 949.7 610.5 948.6 611.2 947.9" fill="none" stroke="#8f8f8f" stroke-width="0.8" stroke-linejoin="round" stroke-linecap="round"/><path d="M626.5 928.3C627.2 927.4 628.9 924.6 630.7 922.7C632.6 920.9 634.7 918.5 637.7 917.1C640.8 915.7 645.7 914.3 648.9 914.3C652.2 914.3 655.0 915.5 657.3 917.1C659.6 918.8 660.9 922.0 662.9 924.1C664.9 926.2 668.2 927.6 669.2 929.7C670.2 931.8 669.8 934.8 668.8 936.7C667.7 938.6 664.1 938.6 662.9 940.9C661.7 943.2 662.9 947.4 661.5 950.7C660.1 954.0 657.5 958.0 654.5 960.5C651.5 962.9 646.1 964.0 643.3 965.4C640.5 966.8 638.6 967.1 637.7 968.9C636.8 970.6 639.2 974.0 638.0 975.9C636.8 977.7 633.1 980.0 630.7 980.1C628.4 980.2 625.1 978.2 623.7 976.6C622.3 974.9 623.7 972.0 622.3 970.3C620.9 968.5 617.1 968.2 615.3 966.1C613.6 964.0 613.1 960.0 611.9 957.7C610.6 955.4 608.1 954.2 607.7 952.1C607.3 950.0 608.0 946.6 609.5 945.1C611.0 943.7 614.8 945.3 616.7 943.4C618.7 941.6 619.3 936.4 620.9 933.9C622.6 931.4 625.6 929.3 626.5 928.3" fill="#fff" stroke="#8f8f8f" stroke-width="0.9" stroke-linejoin="round"/><ellipse cx="641.2" cy="942.3" rx="14.5" ry="17.5" transform="rotate(25 641.2 942.3)" fill="#fff" stroke="#8f8f8f" stroke-width="0.9"/><ellipse cx="644.0" cy="943.0" rx="11.0" ry="13.5" transform="rotate(25 644.0 943.0)" fill="#fff" stroke="#8f8f8f" stroke-width="0.9"/><ellipse cx="645.4" cy="943.4" rx="9.4" ry="11.6" transform="rotate(25 645.4 943.4)" fill="#fff" stroke="#8f8f8f" stroke-width="0.8"/><path d="M643.3 939.5C644.5 939.2 648.2 937.8 650.3 937.8C652.4 937.8 653.0 937.5 655.9 939.5C658.8 941.5 665.0 947.0 667.8 950.0C670.6 953.0 672.2 955.2 672.7 957.7C673.2 960.1 672.2 963.3 670.6 964.7C669.0 966.1 665.6 966.8 662.9 966.1C660.2 965.4 657.5 961.9 654.5 960.5C651.5 959.1 646.9 959.8 644.7 957.7C642.5 955.6 641.5 950.9 641.2 947.9C641.0 944.9 643.0 940.9 643.3 939.5" fill="#fff" stroke="#8f8f8f" stroke-width="0.9" stroke-linejoin="round"/><ellipse cx="668.8" cy="958.8" rx="4.2" ry="5.2" transform="rotate(25 668.8 958.8)" fill="#fff" stroke="#8f8f8f" stroke-width="0.9"/><ellipse cx="668.9" cy="959.1" rx="2.0" ry="2.6" transform="rotate(25 668.9 959.1)" fill="#fff" stroke="#8f8f8f" stroke-width="0.8"/><path d="M655.9 949.6L661.5 961.9" fill="none" stroke="#8f8f8f" stroke-width="0.8" stroke-linejoin="round" stroke-linecap="round"/><path d="M658.4 951.0L664.0 963.6" fill="none" stroke="#8f8f8f" stroke-width="0.8" stroke-linejoin="round" stroke-linecap="round"/><path d="M661.5 952.8L666.8 965.0" fill="none" stroke="#8f8f8f" stroke-width="0.8" stroke-linejoin="round" stroke-linecap="round"/><ellipse cx="654.5" cy="952.8" rx="0.9" ry="0.9" transform="rotate(0 654.5 952.8)" fill="#8f8f8f" stroke="#8f8f8f" stroke-width="0.5"/><ellipse cx="664.3" cy="932.5" rx="4.4" ry="5.2" transform="rotate(25 664.3 932.5)" fill="#fff" stroke="#8f8f8f" stroke-width="0.9"/><ellipse cx="664.3" cy="932.5" rx="2.3" ry="2.9" transform="rotate(25 664.3 932.5)" fill="#fff" stroke="#8f8f8f" stroke-width="0.8"/><ellipse cx="612.6" cy="949.3" rx="4.4" ry="5.2" transform="rotate(25 612.6 949.3)" fill="#fff" stroke="#8f8f8f" stroke-width="0.9"/><ellipse cx="612.6" cy="949.3" rx="2.3" ry="2.9" transform="rotate(25 612.6 949.3)" fill="#fff" stroke="#8f8f8f" stroke-width="0.8"/><ellipse cx="633.5" cy="973.1" rx="4.4" ry="5.2" transform="rotate(25 633.5 973.1)" fill="#fff" stroke="#8f8f8f" stroke-width="0.9"/><ellipse cx="633.5" cy="973.1" rx="2.3" ry="2.9" transform="rotate(25 633.5 973.1)" fill="#fff" stroke="#8f8f8f" stroke-width="0.8"/><ellipse cx="623.0" cy="958.4" rx="4.4" ry="5.2" transform="rotate(25 623.0 958.4)" fill="#fff" stroke="#8f8f8f" stroke-width="0.9"/><ellipse cx="623.0" cy="958.4" rx="2.3" ry="2.9" transform="rotate(25 623.0 958.4)" fill="#fff" stroke="#8f8f8f" stroke-width="0.8"/><ellipse cx="652.4" cy="922.0" rx="4.4" ry="5.2" transform="rotate(25 652.4 922.0)" fill="#fff" stroke="#8f8f8f" stroke-width="0.9"/><ellipse cx="652.4" cy="922.0" rx="2.3" ry="2.9" transform="rotate(25 652.4 922.0)" fill="#fff" stroke="#8f8f8f" stroke-width="0.8"/><ellipse cx="628.6" cy="929.0" rx="4.4" ry="5.2" transform="rotate(25 628.6 929.0)" fill="#fff" stroke="#8f8f8f" stroke-width="0.9"/><ellipse cx="628.6" cy="929.0" rx="2.3" ry="2.9" transform="rotate(25 628.6 929.0)" fill="#fff" stroke="#8f8f8f" stroke-width="0.8"/><path d="M603.5 901.7L607.0 898.3L632.1 897.6L641.2 902.4L642.6 910.1L630.7 915.7L623.7 917.1L607.0 907.3Z" fill="#fff" stroke="#8f8f8f" stroke-width="0.9" stroke-linejoin="round"/><path d="M623.7 917.1L625.1 928.3" fill="none" stroke="#8f8f8f" stroke-width="0.8" stroke-linejoin="round" stroke-linecap="round"/><path d="M630.7 915.7L631.0 926.2" fill="none" stroke="#8f8f8f" stroke-width="0.8" stroke-linejoin="round" stroke-linecap="round"/><path d="M642.6 910.1L644.0 915.7" fill="none" stroke="#8f8f8f" stroke-width="0.8" stroke-linejoin="round" stroke-linecap="round"/><path d="M607.0 907.3L623.7 912.2L641.2 903.8" fill="none" stroke="#8f8f8f" stroke-width="0.8" stroke-linejoin="round" stroke-linecap="round"/><ellipse cx="606.3" cy="902.9" rx="2.0" ry="1.6" transform="rotate(0 606.3 902.9)" fill="#fff" stroke="#8f8f8f" stroke-width="0.8"/><ellipse cx="637.0" cy="901.7" rx="2.0" ry="1.6" transform="rotate(0 637.0 901.7)" fill="#fff" stroke="#8f8f8f" stroke-width="0.8"/><path d="M608.9 878.7L609.5 896.2L615.3 899.2L625.1 897.3L629.6 892.0L628.2 882.2L625.1 878.0Z" fill="#fff" stroke="#8f8f8f" stroke-width="0.9" stroke-linejoin="round"/><ellipse cx="617.0" cy="878.0" rx="8.1" ry="5.3" transform="rotate(0 617.0 878.0)" fill="#fff" stroke="#8f8f8f" stroke-width="0.9"/><path d="M608.9 881.5C609.5 882.2 611.0 884.8 612.6 885.7C614.1 886.5 616.3 886.8 618.1 886.6C620.0 886.5 622.5 885.6 623.7 884.7C625.0 883.8 625.1 881.7 625.4 881.0" fill="none" stroke="#8f8f8f" stroke-width="0.8" stroke-linejoin="round" stroke-linecap="round"/><path d="M611.9 895.5L621.2 895.0L621.8 901.5L612.6 901.7Z" fill="#fff" stroke="#8f8f8f" stroke-width="0.8" stroke-linejoin="round"/><path d="M613.3 896.9L620.2 896.6" fill="none" stroke="#8f8f8f" stroke-width="0.8" stroke-linejoin="round" stroke-linecap="round"/><path d="M614.0 899.0L620.7 898.7" fill="none" stroke="#8f8f8f" stroke-width="0.8" stroke-linejoin="round" stroke-linecap="round"/><path d="M596.5 911.5C597.5 911.1 600.5 909.3 602.8 908.7C605.0 908.2 607.4 907.8 609.8 908.5C612.1 909.2 615.5 911.0 617.0 912.9C618.5 914.8 619.0 917.7 618.8 919.9C618.7 922.1 617.6 924.7 616.0 926.2C614.5 927.7 612.0 929.0 609.8 929.0C607.5 929.0 604.7 927.7 602.8 926.2C600.8 924.7 598.9 922.4 597.9 919.9C596.8 917.5 596.7 912.9 596.5 911.5" fill="#fff" stroke="#8f8f8f" stroke-width="0.9" stroke-linejoin="round"/><ellipse cx="608.6" cy="917.4" rx="7.8" ry="8.4" transform="rotate(0 608.6 917.4)" fill="#fff" stroke="#8f8f8f" stroke-width="0.9"/><ellipse cx="609.1" cy="917.1" rx="5.6" ry="6.0" transform="rotate(0 609.1 917.1)" fill="#fff" stroke="#8f8f8f" stroke-width="0.9"/><ellipse cx="609.5" cy="916.9" rx="3.0" ry="3.4" transform="rotate(0 609.5 916.9)" fill="#fff" stroke="#8f8f8f" stroke-width="0.9"/><ellipse cx="609.8" cy="916.6" rx="1.4" ry="1.6" transform="rotate(0 609.8 916.6)" fill="#fff" stroke="#8f8f8f" stroke-width="0.8"/><path d="M575.9 885.0C576.2 883.6 576.6 878.6 577.9 876.6C579.1 874.6 581.6 873.3 583.5 872.9C585.3 872.6 587.7 873.0 589.1 874.6C590.5 876.2 591.2 879.6 591.9 882.4C592.6 885.3 593.1 889.2 593.3 892.0C593.4 894.8 593.7 897.3 593.0 899.2C592.2 901.1 590.8 902.9 588.8 903.4C586.7 904.0 582.7 903.8 580.7 902.6C578.6 901.4 577.3 899.1 576.5 896.2C575.7 893.2 576.0 886.8 575.9 885.0" fill="#fff" stroke="#8f8f8f" stroke-width="0.9" stroke-linejoin="round"/><path d="M576.7 889.9C578.1 889.5 581.9 887.6 584.6 887.8C587.2 887.9 591.3 890.3 592.7 890.8" fill="none" stroke="#8f8f8f" stroke-width="0.8" stroke-linejoin="round" stroke-linecap="round"/><path d="M577.3 894.5C578.6 894.2 582.7 892.5 585.3 892.7C587.9 892.8 591.7 895.0 593.0 895.5" fill="none" stroke="#8f8f8f" stroke-width="0.8" stroke-linejoin="round" stroke-linecap="round"/><path d="M592.4 874.1C593.3 873.3 595.3 870.1 597.4 869.6C599.6 869.1 603.9 869.3 605.6 871.0C607.2 872.7 607.2 876.9 607.2 879.7C607.3 882.4 607.2 886.0 605.8 887.8C604.4 889.5 600.9 890.2 598.8 890.0C596.8 889.8 594.9 889.0 593.8 886.4C592.7 883.7 592.6 876.1 592.4 874.1" fill="#fff" stroke="#8f8f8f" stroke-width="0.9" stroke-linejoin="round"/><path d="M593.7 880.1C594.7 879.7 597.8 877.9 600.0 878.0C602.2 878.0 605.8 880.1 607.0 880.5" fill="none" stroke="#8f8f8f" stroke-width="0.8" stroke-linejoin="round" stroke-linecap="round"/><path d="M595.1 887.8L601.4 889.9L604.9 888.5L606.3 896.2L600.7 898.3L596.0 895.5Z" fill="#fff" stroke="#8f8f8f" stroke-width="0.9" stroke-linejoin="round"/><path d="M593.0 868.2C593.7 867.3 595.3 863.9 597.2 862.9C599.0 861.8 602.5 860.7 604.2 862.0C605.8 863.4 606.5 869.5 607.0 871.0" fill="none" stroke="#8f8f8f" stroke-width="0.8" stroke-linejoin="round" stroke-linecap="round"/><path d="M620.7 865.4C621.4 864.7 623.5 861.8 625.1 861.2C626.8 860.5 629.1 860.8 630.7 861.5C632.4 862.2 634.7 863.8 634.9 865.4C635.2 867.0 633.8 869.8 632.1 871.0C630.5 872.1 627.1 873.3 625.1 872.4C623.2 871.4 621.4 866.6 620.7 865.4" fill="#fff" stroke="#8f8f8f" stroke-width="0.9" stroke-linejoin="round"/><path d="M599.3 865.4C600.0 864.8 601.9 862.3 603.5 861.9C605.0 861.5 607.3 861.8 608.4 862.9C609.4 863.9 610.2 866.8 609.8 868.2C609.3 869.5 607.1 870.7 605.6 871.0C604.0 871.2 601.7 870.5 600.7 869.6C599.6 868.6 599.5 866.1 599.3 865.4" fill="#fff" stroke="#8f8f8f" stroke-width="0.9" stroke-linejoin="round"/><path d="M643.3 876.6L648.9 873.8L654.5 875.9L655.9 882.2L650.6 885.0L644.7 882.9Z" fill="#fff" stroke="#8f8f8f" stroke-width="0.9" stroke-linejoin="round"/><path d="M648.9 882.9L654.5 881.5L661.5 885.0L661.5 890.6L654.5 892.0L649.6 889.2Z" fill="#fff" stroke="#8f8f8f" stroke-width="0.9" stroke-linejoin="round"/></g>
<g id="red"><path d="M492.0 124.0L429.0 201.0" stroke="#f01010" stroke-width="1.1" fill="none"/><path d="M506.0 127.0L429.0 201.0" stroke="#f01010" stroke-width="1.1" fill="none"/><path d="M606.0 398.0L654.0 631.0" stroke="#f01010" stroke-width="1.1" fill="none"/><path d="M623.0 391.0L654.0 631.0" stroke="#f01010" stroke-width="1.1" fill="none"/><path d="M591.0 670.0L287.0 972.0" stroke="#f01010" stroke-width="1.1" fill="none"/><path d="M591.0 670.0L305.5 985.5" stroke="#f01010" stroke-width="1.1" fill="none"/><path d="M627.0 763.0L581.0 802.5" stroke="#f01010" stroke-width="1.1" fill="none"/><path d="M627.0 763.0L597.0 804.5" stroke="#f01010" stroke-width="1.1" fill="none"/><path d="M347.5 1007.5L418.0 1042.0" stroke="#f01010" stroke-width="1.1" fill="none"/><path d="M347.5 1007.5L411.0 1050.0" stroke="#f01010" stroke-width="1.1" fill="none"/><path d="M592.0 911.0L518.0 986.0" stroke="#f01010" stroke-width="1.1" fill="none"/><path d="M592.0 911.0L533.0 985.0" stroke="#f01010" stroke-width="1.1" fill="none"/></g>
<g id="tubes"><path d="M162.0 171.0L227.0 251.0" fill="none" stroke="#000" stroke-width="1.4" stroke-dasharray="24 6 5 6"/><path d="M166.0 179.0L166.0 230.0L196.0 272.0" fill="none" stroke="#000" stroke-width="1.3"/><path d="M357.0 357.0L384.0 372.5" fill="none" stroke="#000" stroke-width="1.3"/><path d="M384.3 372.0L384.3 930.0" fill="none" stroke="#000" stroke-width="1.7" stroke-dasharray="30 7 6 7"/><path d="M384.3 930.0L494.0 995.0" fill="none" stroke="#000" stroke-width="1.5" stroke-dasharray="30 7 6 7"/><path d="M213.0 495.0L315.0 545.0" fill="none" stroke="#000" stroke-width="1.4" stroke-dasharray="22 6 5 6"/><path d="M315.0 545.0L315.0 800.0" fill="none" stroke="#000" stroke-width="1.6" stroke-dasharray="22 6 5 6"/><path d="M213.0 510.0L291.7 548.0" fill="none" stroke="#000" stroke-width="1.4" stroke-dasharray="22 6 5 6"/><path d="M291.7 548.0L291.7 787.0" fill="none" stroke="#000" stroke-width="1.6" stroke-dasharray="22 6 5 6"/><path d="M291.7 787.0L185.0 849.5" fill="none" stroke="#000" stroke-width="1.4" stroke-dasharray="22 6 5 6"/><path d="M185.0 849.5L208.0 860.0" fill="none" stroke="#000" stroke-width="1.4"/><path d="M315.0 797.0L315.0 802.5L339.0 814.0" fill="none" stroke="#000" stroke-width="1.3"/><path d="M528.0 323.0L528.0 356.0" fill="none" stroke="#000" stroke-width="1.5"/><path d="M415.0 973.0L444.0 989.5" fill="none" stroke="#000" stroke-width="1.3"/><path d="M160.0 24.0C157.5 25.1 152.1 26.1 145.0 30.5C137.9 34.9 124.8 44.8 117.5 50.5C110.2 56.2 104.8 60.4 101.0 64.5C97.2 68.6 96.2 71.2 95.0 75.0C93.8 78.8 93.3 82.9 94.0 87.5C94.7 92.1 96.3 97.1 99.0 102.5C101.7 107.9 106.1 114.2 110.0 120.0C113.9 125.8 118.0 131.3 122.5 137.5C127.0 143.7 134.6 153.8 137.0 157.0" fill="none" stroke="#000" stroke-width="8.6" stroke-linejoin="round" stroke-linecap="butt"/><path d="M160.0 24.0C157.5 25.1 152.1 26.1 145.0 30.5C137.9 34.9 124.8 44.8 117.5 50.5C110.2 56.2 104.8 60.4 101.0 64.5C97.2 68.6 96.2 71.2 95.0 75.0C93.8 78.8 93.3 82.9 94.0 87.5C94.7 92.1 96.3 97.1 99.0 102.5C101.7 107.9 106.1 114.2 110.0 120.0C113.9 125.8 118.0 131.3 122.5 137.5C127.0 143.7 134.6 153.8 137.0 157.0" fill="none" stroke="#fff" stroke-width="4.4" stroke-linejoin="round" stroke-linecap="butt"/><path d="M171.0 37.0C168.5 37.8 163.2 38.2 156.0 42.0C148.8 45.8 135.2 54.5 127.5 59.5C119.8 64.5 113.8 68.8 110.0 72.0C106.2 75.2 105.7 76.3 105.0 79.0C104.3 81.7 104.8 84.9 106.0 88.0C107.2 91.1 109.8 93.4 112.5 97.5C115.2 101.6 119.1 107.2 122.5 112.5C125.9 117.8 131.2 126.2 133.0 129.0" fill="none" stroke="#000" stroke-width="8.6" stroke-linejoin="round" stroke-linecap="butt"/><path d="M171.0 37.0C168.5 37.8 163.2 38.2 156.0 42.0C148.8 45.8 135.2 54.5 127.5 59.5C119.8 64.5 113.8 68.8 110.0 72.0C106.2 75.2 105.7 76.3 105.0 79.0C104.3 81.7 104.8 84.9 106.0 88.0C107.2 91.1 109.8 93.4 112.5 97.5C115.2 101.6 119.1 107.2 122.5 112.5C125.9 117.8 131.2 126.2 133.0 129.0" fill="none" stroke="#fff" stroke-width="4.4" stroke-linejoin="round" stroke-linecap="butt"/><path d="M178.7 36.7L189.3 33.0Q195.0 31.0 199.5 30.5L199.5 30.5Q204.0 30.0 207.0 32.5L207.0 32.5Q210.0 35.0 214.4 39.1L214.8 39.6Q219.2 43.7 222.2 47.2L222.2 47.2Q225.3 50.7 228.4 52.9L228.4 52.9Q231.5 55.0 237.2 56.8L254.6 62.5Q260.3 64.3 263.1 67.2L263.1 67.2Q266.0 70.0 268.0 75.2L268.0 75.2Q270.0 80.4 271.9 86.1L295.1 156.0Q297.0 161.7 300.1 166.8L301.9 169.7Q305.0 174.8 309.4 178.9L312.6 181.9Q317.0 186.0 323.0 186.7L329.0 187.3Q335.0 188.0 340.7 189.8L342.3 190.2Q348.0 192.0 350.0 194.5L350.0 194.5Q352.0 197.0 353.8 202.5L353.8 202.5Q355.5 208.0 358.2 209.8L358.2 209.8Q361.0 211.5 367.0 210.9L376.5 210.1Q382.5 209.5 388.5 209.9L396.5 210.6Q402.5 211.0 407.5 214.2L407.5 214.2Q412.5 217.5 416.7 221.7L433.3 238.3Q437.5 242.5 442.0 246.5L461.5 264.0Q466.0 268.0 471.8 269.6L496.7 276.4Q502.5 278.0 508.3 279.5L528.2 284.5Q534.0 286.0 538.2 286.0L542.5 286.0" fill="none" stroke="#000" stroke-width="8.6" stroke-linejoin="round" stroke-linecap="butt"/><path d="M178.7 36.7L189.3 33.0Q195.0 31.0 199.5 30.5L199.5 30.5Q204.0 30.0 207.0 32.5L207.0 32.5Q210.0 35.0 214.4 39.1L214.8 39.6Q219.2 43.7 222.2 47.2L222.2 47.2Q225.3 50.7 228.4 52.9L228.4 52.9Q231.5 55.0 237.2 56.8L254.6 62.5Q260.3 64.3 263.1 67.2L263.1 67.2Q266.0 70.0 268.0 75.2L268.0 75.2Q270.0 80.4 271.9 86.1L295.1 156.0Q297.0 161.7 300.1 166.8L301.9 169.7Q305.0 174.8 309.4 178.9L312.6 181.9Q317.0 186.0 323.0 186.7L329.0 187.3Q335.0 188.0 340.7 189.8L342.3 190.2Q348.0 192.0 350.0 194.5L350.0 194.5Q352.0 197.0 353.8 202.5L353.8 202.5Q355.5 208.0 358.2 209.8L358.2 209.8Q361.0 211.5 367.0 210.9L376.5 210.1Q382.5 209.5 388.5 209.9L396.5 210.6Q402.5 211.0 407.5 214.2L407.5 214.2Q412.5 217.5 416.7 221.7L433.3 238.3Q437.5 242.5 442.0 246.5L461.5 264.0Q466.0 268.0 471.8 269.6L496.7 276.4Q502.5 278.0 508.3 279.5L528.2 284.5Q534.0 286.0 538.2 286.0L542.5 286.0" fill="none" stroke="#fff" stroke-width="4.4" stroke-linejoin="round" stroke-linecap="butt"/><path d="M190.0 12.5L197.1 11.4Q203.0 10.5 207.0 13.2L207.0 13.2Q211.0 16.0 214.7 20.8L217.3 24.2Q221.0 29.0 224.1 34.1L224.9 35.4Q228.0 40.5 231.0 43.1L231.0 43.1Q234.0 45.8 239.8 47.5L260.6 53.7Q266.4 55.4 269.9 58.5L269.9 58.5Q273.4 61.5 276.3 66.7L276.6 67.3Q279.5 72.5 281.3 78.2L304.0 152.5Q305.8 158.2 309.6 162.9L309.8 163.1Q313.6 167.8 317.6 172.3L321.9 177.3Q325.9 181.8 331.6 179.8L332.3 179.5Q338.0 177.5 342.0 177.0L342.0 177.0Q346.0 176.5 348.5 179.8L348.5 179.8Q351.0 183.0 353.1 188.6L354.4 192.4Q356.5 198.0 358.8 199.5L358.8 199.5Q361.0 201.0 367.0 200.6L376.5 199.9Q382.5 199.5 388.5 199.9L398.0 200.6Q404.0 201.0 409.0 203.5L409.0 203.5Q414.0 206.0 418.3 210.2L438.2 229.8Q442.5 234.0 447.2 237.7L469.3 255.3Q474.0 259.0 479.9 260.3L506.6 266.2Q512.5 267.5 518.4 268.6L547.5 274.0" fill="none" stroke="#000" stroke-width="8.6" stroke-linejoin="round" stroke-linecap="butt"/><path d="M190.0 12.5L197.1 11.4Q203.0 10.5 207.0 13.2L207.0 13.2Q211.0 16.0 214.7 20.8L217.3 24.2Q221.0 29.0 224.1 34.1L224.9 35.4Q228.0 40.5 231.0 43.1L231.0 43.1Q234.0 45.8 239.8 47.5L260.6 53.7Q266.4 55.4 269.9 58.5L269.9 58.5Q273.4 61.5 276.3 66.7L276.6 67.3Q279.5 72.5 281.3 78.2L304.0 152.5Q305.8 158.2 309.6 162.9L309.8 163.1Q313.6 167.8 317.6 172.3L321.9 177.3Q325.9 181.8 331.6 179.8L332.3 179.5Q338.0 177.5 342.0 177.0L342.0 177.0Q346.0 176.5 348.5 179.8L348.5 179.8Q351.0 183.0 353.1 188.6L354.4 192.4Q356.5 198.0 358.8 199.5L358.8 199.5Q361.0 201.0 367.0 200.6L376.5 199.9Q382.5 199.5 388.5 199.9L398.0 200.6Q404.0 201.0 409.0 203.5L409.0 203.5Q414.0 206.0 418.3 210.2L438.2 229.8Q442.5 234.0 447.2 237.7L469.3 255.3Q474.0 259.0 479.9 260.3L506.6 266.2Q512.5 267.5 518.4 268.6L547.5 274.0" fill="none" stroke="#fff" stroke-width="4.4" stroke-linejoin="round" stroke-linecap="butt"/><path d="M547.5 274.0L559.5 274.9Q567.5 275.5 575.5 275.7L581.0 275.8Q589.0 276.0 596.0 272.2L606.0 266.8Q613.0 263.0 620.2 261.0L620.2 261.0Q627.5 259.0 634.5 255.1L642.0 251.0" fill="none" stroke="#000" stroke-width="6.5" stroke-linejoin="round" stroke-linecap="butt"/><path d="M547.5 274.0L559.5 274.9Q567.5 275.5 575.5 275.7L581.0 275.8Q589.0 276.0 596.0 272.2L606.0 266.8Q613.0 263.0 620.2 261.0L620.2 261.0Q627.5 259.0 634.5 255.1L642.0 251.0" fill="none" stroke="#fff" stroke-width="2.9" stroke-linejoin="round" stroke-linecap="butt"/><path d="M640.0 251.5L654.5 245.8" fill="none" stroke="#000" stroke-width="5.4" stroke-linejoin="round" stroke-linecap="round"/><path d="M640.0 251.5L654.5 245.8" fill="none" stroke="#fff" stroke-width="2.4" stroke-linejoin="round" stroke-linecap="round"/><path d="M639.5 252.0L642.5 250.7" fill="none" stroke="#000" stroke-width="7.6" stroke-linejoin="round" stroke-linecap="butt"/><path d="M639.5 252.0L642.5 250.7" fill="none" stroke="#fff" stroke-width="4.4" stroke-linejoin="round" stroke-linecap="butt"/><path d="M542.5 286.0L567.0 287.1Q575.0 287.5 583.0 287.5L603.0 287.5Q611.0 287.5 618.0 283.6L635.5 273.9Q642.5 270.0 649.5 266.1L673.0 252.9Q680.0 249.0 687.0 245.2L717.0 229.0" fill="none" stroke="#000" stroke-width="6.5" stroke-linejoin="round" stroke-linecap="butt"/><path d="M542.5 286.0L567.0 287.1Q575.0 287.5 583.0 287.5L603.0 287.5Q611.0 287.5 618.0 283.6L635.5 273.9Q642.5 270.0 649.5 266.1L673.0 252.9Q680.0 249.0 687.0 245.2L717.0 229.0" fill="none" stroke="#fff" stroke-width="2.9" stroke-linejoin="round" stroke-linecap="butt"/><path d="M715.0 229.5L727.5 224.8" fill="none" stroke="#000" stroke-width="5.4" stroke-linejoin="round" stroke-linecap="round"/><path d="M715.0 229.5L727.5 224.8" fill="none" stroke="#fff" stroke-width="2.4" stroke-linejoin="round" stroke-linecap="round"/><path d="M714.5 230.0L717.5 228.7" fill="none" stroke="#000" stroke-width="7.6" stroke-linejoin="round" stroke-linecap="butt"/><path d="M714.5 230.0L717.5 228.7" fill="none" stroke="#fff" stroke-width="4.4" stroke-linejoin="round" stroke-linecap="butt"/><path d="M264.0 79.5L271.0 78.0L272.5 84.0L265.5 85.5Z" fill="#fff" stroke="#000" stroke-width="1.2" stroke-linejoin="round"/><path d="M272.5 73.0L279.0 71.5L280.5 77.5L274.0 79.0Z" fill="#fff" stroke="#000" stroke-width="1.2" stroke-linejoin="round"/><path d="M280.5 71.0L283.5 70.0L285.0 75.0L282.0 76.0Z" fill="#fff" stroke="#000" stroke-width="1.0" stroke-linejoin="round"/><path d="M440.0 317.5C437.5 319.6 428.8 325.4 425.0 330.0C421.2 334.6 419.0 339.0 417.5 345.0C416.0 351.0 416.2 362.5 416.0 366.0" fill="none" stroke="#000" stroke-width="8.8" stroke-linejoin="round" stroke-linecap="butt"/><path d="M440.0 317.5C437.5 319.6 428.8 325.4 425.0 330.0C421.2 334.6 419.0 339.0 417.5 345.0C416.0 351.0 416.2 362.5 416.0 366.0" fill="none" stroke="#fff" stroke-width="4.2" stroke-linejoin="round" stroke-linecap="butt"/><path d="M238.7 268.7C240.6 270.8 246.3 277.6 250.0 281.0C253.7 284.4 255.2 286.8 261.0 289.0C266.8 291.2 276.8 291.2 285.0 294.0C293.2 296.8 300.8 301.2 310.0 306.0C319.2 310.8 330.8 317.8 340.0 322.5C349.2 327.2 357.5 331.2 365.0 334.0C372.5 336.8 378.4 338.8 385.0 339.0C391.6 339.2 397.4 338.6 404.5 335.0C411.6 331.4 420.3 321.0 427.5 317.5C434.7 314.0 442.2 314.5 447.5 314.0C452.8 313.5 454.8 314.5 459.0 314.5C463.2 314.5 468.8 314.3 472.5 314.0C476.2 313.7 477.2 313.0 481.0 312.5C484.8 312.0 490.6 312.1 495.0 311.0C499.4 309.9 503.8 307.7 507.5 306.0C511.2 304.3 515.8 301.8 517.5 301.0" fill="none" stroke="#000" stroke-width="8.6" stroke-linejoin="round" stroke-linecap="butt"/><path d="M238.7 268.7C240.6 270.8 246.3 277.6 250.0 281.0C253.7 284.4 255.2 286.8 261.0 289.0C266.8 291.2 276.8 291.2 285.0 294.0C293.2 296.8 300.8 301.2 310.0 306.0C319.2 310.8 330.8 317.8 340.0 322.5C349.2 327.2 357.5 331.2 365.0 334.0C372.5 336.8 378.4 338.8 385.0 339.0C391.6 339.2 397.4 338.6 404.5 335.0C411.6 331.4 420.3 321.0 427.5 317.5C434.7 314.0 442.2 314.5 447.5 314.0C452.8 313.5 454.8 314.5 459.0 314.5C463.2 314.5 468.8 314.3 472.5 314.0C476.2 313.7 477.2 313.0 481.0 312.5C484.8 312.0 490.6 312.1 495.0 311.0C499.4 309.9 503.8 307.7 507.5 306.0C511.2 304.3 515.8 301.8 517.5 301.0" fill="none" stroke="#fff" stroke-width="4.0" stroke-linejoin="round" stroke-linecap="butt"/><path d="M212.5 287.5C215.0 289.6 220.6 294.6 227.5 300.0C234.4 305.4 244.8 314.3 254.0 320.0C263.2 325.7 273.6 331.3 282.5 334.0C291.4 336.7 300.4 334.3 307.5 336.0C314.6 337.7 320.6 342.1 325.0 344.0C329.4 345.9 332.5 346.9 334.0 347.5" fill="none" stroke="#000" stroke-width="7.6" stroke-linejoin="round" stroke-linecap="butt"/><path d="M212.5 287.5C215.0 289.6 220.6 294.6 227.5 300.0C234.4 305.4 244.8 314.3 254.0 320.0C263.2 325.7 273.6 331.3 282.5 334.0C291.4 336.7 300.4 334.3 307.5 336.0C314.6 337.7 320.6 342.1 325.0 344.0C329.4 345.9 332.5 346.9 334.0 347.5" fill="none" stroke="#fff" stroke-width="3.2" stroke-linejoin="round" stroke-linecap="butt"/><path d="M242.5 975.0C243.8 975.8 245.4 977.9 250.0 980.0C254.6 982.1 263.3 984.3 270.0 987.5C276.7 990.7 283.3 995.4 290.0 999.0C296.7 1002.6 304.2 1007.3 310.0 1009.0C315.8 1010.7 320.4 1010.1 325.0 1009.0C329.6 1007.9 335.4 1003.6 337.5 1002.5" fill="none" stroke="#000" stroke-width="6.8" stroke-linejoin="round" stroke-linecap="butt"/><path d="M242.5 975.0C243.8 975.8 245.4 977.9 250.0 980.0C254.6 982.1 263.3 984.3 270.0 987.5C276.7 990.7 283.3 995.4 290.0 999.0C296.7 1002.6 304.2 1007.3 310.0 1009.0C315.8 1010.7 320.4 1010.1 325.0 1009.0C329.6 1007.9 335.4 1003.6 337.5 1002.5" fill="none" stroke="#fff" stroke-width="2.4" stroke-linejoin="round" stroke-linecap="butt"/><path d="M231.0 869.0C233.3 870.0 240.2 871.9 245.0 875.0C249.8 878.1 256.0 882.9 260.0 887.5C264.0 892.1 267.2 897.1 269.0 902.5C270.8 907.9 271.0 914.2 270.5 920.0C270.0 925.8 267.9 933.3 266.0 937.5C264.1 941.7 261.7 942.5 259.0 945.0C256.3 947.5 253.2 949.8 250.0 952.5C246.8 955.2 242.3 958.2 240.0 961.0C237.7 963.8 235.6 966.7 236.0 969.0C236.4 971.3 241.4 974.0 242.5 975.0" fill="none" stroke="#000" stroke-width="10.2" stroke-linejoin="round" stroke-linecap="butt"/><path d="M231.0 869.0C233.3 870.0 240.2 871.9 245.0 875.0C249.8 878.1 256.0 882.9 260.0 887.5C264.0 892.1 267.2 897.1 269.0 902.5C270.8 907.9 271.0 914.2 270.5 920.0C270.0 925.8 267.9 933.3 266.0 937.5C264.1 941.7 261.7 942.5 259.0 945.0C256.3 947.5 253.2 949.8 250.0 952.5C246.8 955.2 242.3 958.2 240.0 961.0C237.7 963.8 235.6 966.7 236.0 969.0C236.4 971.3 241.4 974.0 242.5 975.0" fill="none" stroke="#fff" stroke-width="5.4" stroke-linejoin="round" stroke-linecap="butt"/><path d="M337.5 1002.5C339.6 1001.9 345.4 999.7 350.0 999.0C354.6 998.3 359.2 998.3 365.0 998.5C370.8 998.7 377.7 1000.3 385.0 1000.0C392.3 999.7 404.8 997.1 408.8 996.5" fill="none" stroke="#000" stroke-width="9.4" stroke-linejoin="round" stroke-linecap="butt"/><path d="M337.5 1002.5C339.6 1001.9 345.4 999.7 350.0 999.0C354.6 998.3 359.2 998.3 365.0 998.5C370.8 998.7 377.7 1000.3 385.0 1000.0C392.3 999.7 404.8 997.1 408.8 996.5" fill="none" stroke="#fff" stroke-width="4.6" stroke-linejoin="round" stroke-linecap="butt"/><path d="M359.0 831.0C357.9 833.8 355.2 841.8 352.5 847.5C349.8 853.2 346.2 858.9 342.5 865.0C338.8 871.1 334.6 878.2 330.0 884.0C325.4 889.8 320.0 895.2 315.0 900.0C310.0 904.8 303.8 908.8 300.0 912.5C296.2 916.2 292.7 919.5 292.5 922.5C292.3 925.5 294.8 928.3 299.0 930.5C303.2 932.7 310.2 933.2 317.5 935.5C324.8 937.8 334.2 941.8 342.5 944.0C350.8 946.2 360.4 947.2 367.5 949.0C374.6 950.8 380.6 953.0 385.0 955.0C389.4 957.0 392.5 960.0 394.0 961.0" fill="none" stroke="#000" stroke-width="8.8" stroke-linejoin="round" stroke-linecap="butt"/><path d="M359.0 831.0C357.9 833.8 355.2 841.8 352.5 847.5C349.8 853.2 346.2 858.9 342.5 865.0C338.8 871.1 334.6 878.2 330.0 884.0C325.4 889.8 320.0 895.2 315.0 900.0C310.0 904.8 303.8 908.8 300.0 912.5C296.2 916.2 292.7 919.5 292.5 922.5C292.3 925.5 294.8 928.3 299.0 930.5C303.2 932.7 310.2 933.2 317.5 935.5C324.8 937.8 334.2 941.8 342.5 944.0C350.8 946.2 360.4 947.2 367.5 949.0C374.6 950.8 380.6 953.0 385.0 955.0C389.4 957.0 392.5 960.0 394.0 961.0" fill="none" stroke="#fff" stroke-width="4.2" stroke-linejoin="round" stroke-linecap="butt"/><path d="M466.0 1002.5C468.3 1004.2 475.6 1007.9 480.0 1012.5C484.4 1017.1 488.3 1024.6 492.5 1030.0C496.7 1035.4 500.0 1040.8 505.0 1045.0C510.0 1049.2 516.7 1052.5 522.5 1055.0C528.3 1057.5 535.8 1057.5 540.0 1060.0C544.2 1062.5 546.3 1065.8 548.0 1070.0C549.7 1074.2 549.8 1080.8 550.0 1085.0C550.2 1089.2 550.2 1090.0 549.0 1095.0C547.8 1100.0 545.7 1108.3 542.5 1115.0C539.3 1121.7 534.6 1129.8 530.0 1135.0C525.4 1140.2 520.0 1143.5 515.0 1146.0C510.0 1148.5 505.0 1150.0 500.0 1150.0C495.0 1150.0 490.0 1148.3 485.0 1146.0C480.0 1143.7 474.6 1138.8 470.0 1136.0C465.4 1133.2 461.7 1130.2 457.5 1129.0C453.3 1127.8 448.8 1127.8 445.0 1129.0C441.2 1130.2 438.2 1132.5 435.0 1136.0C431.8 1139.5 428.3 1145.3 426.0 1150.0C423.7 1154.7 421.8 1161.7 421.0 1164.0" fill="none" stroke="#000" stroke-width="10.2" stroke-linejoin="round" stroke-linecap="butt"/><path d="M466.0 1002.5C468.3 1004.2 475.6 1007.9 480.0 1012.5C484.4 1017.1 488.3 1024.6 492.5 1030.0C496.7 1035.4 500.0 1040.8 505.0 1045.0C510.0 1049.2 516.7 1052.5 522.5 1055.0C528.3 1057.5 535.8 1057.5 540.0 1060.0C544.2 1062.5 546.3 1065.8 548.0 1070.0C549.7 1074.2 549.8 1080.8 550.0 1085.0C550.2 1089.2 550.2 1090.0 549.0 1095.0C547.8 1100.0 545.7 1108.3 542.5 1115.0C539.3 1121.7 534.6 1129.8 530.0 1135.0C525.4 1140.2 520.0 1143.5 515.0 1146.0C510.0 1148.5 505.0 1150.0 500.0 1150.0C495.0 1150.0 490.0 1148.3 485.0 1146.0C480.0 1143.7 474.6 1138.8 470.0 1136.0C465.4 1133.2 461.7 1130.2 457.5 1129.0C453.3 1127.8 448.8 1127.8 445.0 1129.0C441.2 1130.2 438.2 1132.5 435.0 1136.0C431.8 1139.5 428.3 1145.3 426.0 1150.0C423.7 1154.7 421.8 1161.7 421.0 1164.0" fill="none" stroke="#fff" stroke-width="5.4" stroke-linejoin="round" stroke-linecap="butt"/><path d="M517.5 1012.5C520.0 1014.2 527.9 1019.6 532.5 1022.5C537.1 1025.4 541.1 1027.9 545.0 1030.0C548.9 1032.1 554.2 1034.2 556.0 1035.0" fill="none" stroke="#000" stroke-width="6.8" stroke-linejoin="round" stroke-linecap="butt"/><path d="M517.5 1012.5C520.0 1014.2 527.9 1019.6 532.5 1022.5C537.1 1025.4 541.1 1027.9 545.0 1030.0C548.9 1032.1 554.2 1034.2 556.0 1035.0" fill="none" stroke="#fff" stroke-width="2.4" stroke-linejoin="round" stroke-linecap="butt"/><path d="M556.0 1035.0C559.2 1037.5 569.8 1045.0 575.0 1050.0C580.2 1055.0 584.5 1060.3 587.5 1065.0C590.5 1069.7 592.2 1073.8 593.0 1078.0C593.8 1082.2 593.2 1085.1 592.0 1090.0C590.8 1094.9 588.0 1100.8 586.0 1107.5C584.0 1114.2 581.8 1123.3 580.0 1130.0C578.2 1136.7 577.5 1142.1 575.0 1147.5C572.5 1152.9 569.2 1158.1 565.0 1162.5C560.8 1166.9 555.0 1171.8 550.0 1174.0C545.0 1176.2 540.0 1176.2 535.0 1176.0C530.0 1175.8 524.6 1173.5 520.0 1172.5C515.4 1171.5 510.8 1170.0 507.5 1170.0C504.2 1170.0 503.8 1172.1 500.0 1172.5C496.2 1172.9 489.6 1173.3 485.0 1172.5C480.4 1171.7 474.6 1168.3 472.5 1167.5" fill="none" stroke="#000" stroke-width="9.2" stroke-linejoin="round" stroke-linecap="butt"/><path d="M556.0 1035.0C559.2 1037.5 569.8 1045.0 575.0 1050.0C580.2 1055.0 584.5 1060.3 587.5 1065.0C590.5 1069.7 592.2 1073.8 593.0 1078.0C593.8 1082.2 593.2 1085.1 592.0 1090.0C590.8 1094.9 588.0 1100.8 586.0 1107.5C584.0 1114.2 581.8 1123.3 580.0 1130.0C578.2 1136.7 577.5 1142.1 575.0 1147.5C572.5 1152.9 569.2 1158.1 565.0 1162.5C560.8 1166.9 555.0 1171.8 550.0 1174.0C545.0 1176.2 540.0 1176.2 535.0 1176.0C530.0 1175.8 524.6 1173.5 520.0 1172.5C515.4 1171.5 510.8 1170.0 507.5 1170.0C504.2 1170.0 503.8 1172.1 500.0 1172.5C496.2 1172.9 489.6 1173.3 485.0 1172.5C480.4 1171.7 474.6 1168.3 472.5 1167.5" fill="none" stroke="#fff" stroke-width="4.4" stroke-linejoin="round" stroke-linecap="butt"/></g>
<g id="comps"><path d="M159.9 21.0L170.4 15.2L175.1 26.2L164.6 30.9Z" fill="#fff" stroke="#000" stroke-width="1.3" stroke-linejoin="round"/><path d="M162.8 19.6L167.5 29.7" fill="none" stroke="#000" stroke-width="1.2" stroke-linejoin="round" stroke-linecap="round"/><path d="M165.7 17.8L170.4 28.3" fill="none" stroke="#000" stroke-width="1.2" stroke-linejoin="round" stroke-linecap="round"/><path d="M168.4 16.3L173.0 27.0" fill="none" stroke="#000" stroke-width="1.2" stroke-linejoin="round" stroke-linecap="round"/><path d="M172.7 8.2L178.6 9.9L180.9 4.7L184.4 5.2L185.0 8.7L187.9 9.3L190.2 12.8L190.8 22.1L185.0 25.6L179.1 27.4L175.1 23.3L173.3 14.0Z" fill="#fff" stroke="#000" stroke-width="1.5" stroke-linejoin="round"/><path d="M178.6 9.9L179.1 15.2L185.0 14.0L185.0 8.7" fill="none" stroke="#000" stroke-width="1.0" stroke-linejoin="round" stroke-linecap="round"/><path d="M179.1 15.2L180.9 23.3L185.0 25.6" fill="none" stroke="#000" stroke-width="1.0" stroke-linejoin="round" stroke-linecap="round"/><path d="M170.4 33.8L177.4 31.5L179.4 43.1L173.3 45.2Z" fill="#fff" stroke="#000" stroke-width="1.5" stroke-linejoin="round"/><path d="M173.9 32.6L176.2 44.1" fill="none" stroke="#000" stroke-width="1.0" stroke-linejoin="round" stroke-linecap="round"/><path d="M219.7 21.0L225.8 19.6L230.2 27.4L222.8 43.7L213.5 46.0L206.5 37.9L208.9 35.0L215.9 39.0L221.1 31.5Z" fill="#fff" stroke="#000" stroke-width="1.4" stroke-linejoin="round"/><path d="M222.8 21.6L226.3 28.0L219.9 42.0" fill="none" stroke="#000" stroke-width="1.0" stroke-linejoin="round" stroke-linecap="round"/><path d="M224.6 20.7L228.3 27.7L221.7 43.1" fill="none" stroke="#000" stroke-width="1.0" stroke-linejoin="round" stroke-linecap="round"/><path d="M108.6 128.0L115.1 126.2L117.4 129.7L113.3 133.8Z" fill="#fff" stroke="#000" stroke-width="1.3" stroke-linejoin="round"/><path d="M111.6 117.5L124.4 111.1L129.6 111.1L132.0 115.7L129.0 119.2L125.0 114.6L115.1 121.6Z" fill="#fff" stroke="#000" stroke-width="1.4" stroke-linejoin="round"/><path d="M117.4 114.6L119.7 118.6" fill="none" stroke="#000" stroke-width="1.0" stroke-linejoin="round" stroke-linecap="round"/><path d="M145.9 158.3L158.8 171.1" fill="none" stroke="#000" stroke-width="5.8" stroke-linejoin="round" stroke-linecap="butt"/><path d="M145.9 158.3L158.8 171.1" fill="none" stroke="#fff" stroke-width="3.2" stroke-linejoin="round" stroke-linecap="butt"/><path d="M149.4 149.0L162.8 167.0" fill="none" stroke="#000" stroke-width="1.3" stroke-linejoin="round" stroke-linecap="round"/><path d="M129.0 130.9L136.6 128.0L141.9 133.8L133.7 139.0Z" fill="#fff" stroke="#000" stroke-width="1.3" stroke-linejoin="round"/><path d="M130.8 133.2L138.4 129.7" fill="none" stroke="#000" stroke-width="1.2" stroke-linejoin="round" stroke-linecap="round"/><path d="M132.2 135.5L140.1 131.7" fill="none" stroke="#000" stroke-width="1.2" stroke-linejoin="round" stroke-linecap="round"/><path d="M133.1 137.5L141.3 133.2" fill="none" stroke="#000" stroke-width="1.2" stroke-linejoin="round" stroke-linecap="round"/><path d="M133.7 139.0L141.9 133.8L148.3 135.0L152.9 140.2L154.1 146.6L149.4 149.0L148.3 154.8L144.8 158.3L140.1 160.6L136.6 154.8L134.9 146.6Z" fill="#fff" stroke="#000" stroke-width="1.5" stroke-linejoin="round"/><path d="M142.4 138.5L148.3 137.3L149.4 140.8L144.2 142.5L142.4 138.5" fill="none" stroke="#000" stroke-width="1.0" stroke-linejoin="round" stroke-linecap="round"/><path d="M143.6 149.0L147.1 147.8L147.7 151.3L144.8 153.0L143.6 149.0" fill="none" stroke="#000" stroke-width="1.0" stroke-linejoin="round" stroke-linecap="round"/><path d="M136.6 140.8L139.0 151.3L141.3 158.3" fill="none" stroke="#000" stroke-width="1.0" stroke-linejoin="round" stroke-linecap="round"/><path d="M495.0 116.6L496.4 114.9L508.7 119.4L506.2 123.3Z" fill="#fff" stroke="#000" stroke-width="1.2" stroke-linejoin="round"/><path d="M511.8 90.0L515.7 87.2L519.9 87.6L526.7 91.8L526.5 98.4L523.0 106.8L518.1 107.9L515.3 103.3L516.4 97.4Z" fill="#fff" stroke="#000" stroke-width="1.5" stroke-linejoin="round"/><path d="M503.1 93.2L505.9 90.0L517.1 96.7L515.0 104.4L512.9 105.8L502.4 98.8Z" fill="#fff" stroke="#000" stroke-width="1.3" stroke-linejoin="round"/><path d="M492.2 105.4L501.0 98.8L512.9 105.8L512.2 110.0L508.0 111.4L504.1 116.3L492.2 111.0Z" fill="#fff" stroke="#000" stroke-width="1.5" stroke-linejoin="round"/><path d="M515.7 87.2L522.0 93.2L526.5 91.8" fill="none" stroke="#000" stroke-width="1.0" stroke-linejoin="round" stroke-linecap="round"/><path d="M522.0 93.2L521.3 98.1L518.1 107.9" fill="none" stroke="#000" stroke-width="1.0" stroke-linejoin="round" stroke-linecap="round"/><path d="M512.9 89.0L519.2 95.3" fill="none" stroke="#000" stroke-width="1.0" stroke-linejoin="round" stroke-linecap="round"/><path d="M505.2 91.4L516.4 98.1" fill="none" stroke="#000" stroke-width="1.0" stroke-linejoin="round" stroke-linecap="round"/><path d="M504.1 92.5L515.7 99.1" fill="none" stroke="#000" stroke-width="1.0" stroke-linejoin="round" stroke-linecap="round"/><path d="M496.1 102.6L508.0 108.6" fill="none" stroke="#000" stroke-width="1.0" stroke-linejoin="round" stroke-linecap="round"/><path d="M498.5 100.9L510.1 107.2" fill="none" stroke="#000" stroke-width="1.0" stroke-linejoin="round" stroke-linecap="round"/><path d="M492.6 107.9L504.1 113.1L508.0 111.4" fill="none" stroke="#000" stroke-width="1.0" stroke-linejoin="round" stroke-linecap="round"/><path d="M495.0 109.6L500.3 111.7L499.9 113.1L494.7 111.0Z" fill="#fff" stroke="#000" stroke-width="1.0" stroke-linejoin="round"/><path d="M515.0 104.4L519.2 105.8L523.4 107.9L510.8 117.0L508.0 114.2L512.9 111.4Z" fill="#fff" stroke="#000" stroke-width="1.2" stroke-linejoin="round"/><ellipse cx="510.8" cy="119.1" rx="2.2" ry="2.0" transform="rotate(0 510.8 119.1)" fill="#000" stroke="#000" stroke-width="0.5"/><path d="M152.7 430.0L167.3 418.3L187.3 426.7L187.3 435.0L172.7 446.0L152.7 438.3Z" fill="#cfcfcf" stroke="#000" stroke-width="1.3" stroke-linejoin="round"/><path d="M152.7 430.0L172.7 437.3L187.3 426.7" fill="none" stroke="#000" stroke-width="1.1" stroke-linejoin="round" stroke-linecap="round"/><path d="M172.7 437.3L172.7 446.0" fill="none" stroke="#000" stroke-width="1.1" stroke-linejoin="round" stroke-linecap="round"/><path d="M190.0 262.5L197.5 272.5" fill="none" stroke="#000" stroke-width="1.2" stroke-linejoin="round" stroke-linecap="round"/><path d="M197.0 274.5C198.3 273.8 202.4 270.6 205.0 270.5C207.6 270.4 210.8 272.0 212.5 273.8C214.2 275.5 215.2 279.2 215.0 281.2C214.8 283.3 211.2 285.0 211.2 286.2C211.2 287.5 215.0 287.5 215.0 288.8C215.0 290.0 212.8 293.8 211.2 293.8C209.7 293.8 207.4 289.2 205.5 288.8C203.6 288.3 201.7 291.9 200.0 291.2C198.3 290.6 196.3 287.1 195.5 285.0C194.7 282.9 194.8 280.5 195.0 278.8C195.2 277.0 196.7 275.2 197.0 274.5" fill="#fff" stroke="#000" stroke-width="1.3" stroke-linejoin="round"/><path d="M205.5 288.8L208.8 281.2L215.0 281.2" fill="none" stroke="#000" stroke-width="1.0" stroke-linejoin="round" stroke-linecap="round"/><path d="M222.0 250.5L228.0 247.0L233.0 253.0L226.5 257.0Z" fill="#fff" stroke="#000" stroke-width="1.8" stroke-linejoin="round"/><path d="M226.0 257.0L233.0 252.5L238.5 259.5L231.0 264.0Z" fill="#fff" stroke="#000" stroke-width="1.8" stroke-linejoin="round"/><path d="M230.0 264.5L237.5 259.5L243.0 266.5L235.5 271.5Z" fill="#fff" stroke="#000" stroke-width="1.8" stroke-linejoin="round"/><path d="M217.5 240.0L223.8 250.0" fill="none" stroke="#000" stroke-width="1.3" stroke-linejoin="round" stroke-linecap="round"/><path d="M333.8 341.2L340.0 340.0L343.0 347.0L357.0 352.0L359.0 357.5L355.0 360.5L341.2 354.5L337.5 353.8L332.5 347.5Z" fill="#fff" stroke="#000" stroke-width="1.4" stroke-linejoin="round"/><path d="M340.0 340.0L337.5 353.8" fill="none" stroke="#000" stroke-width="1.0" stroke-linejoin="round" stroke-linecap="round"/><path d="M343.0 347.0L341.2 354.5" fill="none" stroke="#000" stroke-width="1.0" stroke-linejoin="round" stroke-linecap="round"/><path d="M355.0 352.5L353.8 359.5" fill="none" stroke="#000" stroke-width="1.0" stroke-linejoin="round" stroke-linecap="round"/><path d="M458.0 309.5L464.5 309.0L465.5 320.0L459.5 320.5Z" fill="#fff" stroke="#000" stroke-width="1.4" stroke-linejoin="round"/><path d="M461.2 309.2L462.5 320.2" fill="none" stroke="#000" stroke-width="1.0" stroke-linejoin="round" stroke-linecap="round"/><path d="M480.5 307.5L486.5 306.5L488.0 318.0L482.0 319.0Z" fill="#fff" stroke="#000" stroke-width="1.4" stroke-linejoin="round"/><path d="M483.5 307.0L485.0 318.5" fill="none" stroke="#000" stroke-width="1.0" stroke-linejoin="round" stroke-linecap="round"/><path d="M412.0 365.5L423.5 365.5L423.0 373.8L412.5 373.8Z" fill="#fff" stroke="#000" stroke-width="1.3" stroke-linejoin="round"/><path d="M412.0 368.2L423.5 368.2" fill="none" stroke="#000" stroke-width="1.0" stroke-linejoin="round" stroke-linecap="round"/><path d="M412.0 371.0L423.5 371.0" fill="none" stroke="#000" stroke-width="1.0" stroke-linejoin="round" stroke-linecap="round"/><path d="M410.5 374.5L418.0 373.0L425.0 375.0L425.0 386.2L418.0 390.0L410.5 387.0Z" fill="#fff" stroke="#000" stroke-width="1.5" stroke-linejoin="round"/><path d="M410.5 376.2L418.0 378.8L425.0 376.2" fill="none" stroke="#000" stroke-width="1.0" stroke-linejoin="round" stroke-linecap="round"/><path d="M418.0 378.8L418.0 390.0" fill="none" stroke="#000" stroke-width="1.0" stroke-linejoin="round" stroke-linecap="round"/><path d="M515.0 300.0L520.0 297.0L522.0 305.0L517.5 308.0Z" fill="#fff" stroke="#000" stroke-width="1.5" stroke-linejoin="round"/><path d="M521.2 298.8L526.2 296.2L533.8 298.0L537.0 305.0L537.5 321.2L530.0 323.8L520.5 318.8L520.0 308.8L522.5 305.0Z" fill="#fff" stroke="#000" stroke-width="1.5" stroke-linejoin="round"/><path d="M526.2 305.0L536.2 306.2" fill="none" stroke="#000" stroke-width="1.0" stroke-linejoin="round" stroke-linecap="round"/><path d="M526.2 305.0L525.0 296.2" fill="none" stroke="#000" stroke-width="1.0" stroke-linejoin="round" stroke-linecap="round"/><path d="M530.0 317.0L534.5 315.8L535.0 319.5L530.5 320.8Z" fill="#fff" stroke="#000" stroke-width="1.0" stroke-linejoin="round"/><path d="M121.2 537.5C121.9 536.8 123.5 534.3 125.4 533.3C127.2 532.4 131.0 531.0 132.4 531.9C133.8 532.9 133.7 535.4 133.8 538.9C133.9 542.4 134.2 550.1 133.1 552.9C131.9 555.7 128.5 555.7 126.8 555.7C125.0 555.7 123.6 554.8 122.6 552.9C121.5 551.0 120.7 547.1 120.5 544.5C120.3 541.9 121.1 538.7 121.2 537.5" fill="#fff" stroke="#000" stroke-width="1.4" stroke-linejoin="round"/><path d="M125.4 533.3C125.3 535.2 124.5 540.8 124.7 544.5C124.9 548.2 126.4 553.8 126.8 555.7" fill="none" stroke="#000" stroke-width="1.0" stroke-linejoin="round" stroke-linecap="round"/><path d="M128.9 538.9L127.5 551.5" fill="none" stroke="#000" stroke-width="1.0" stroke-linejoin="round" stroke-linecap="round"/><path d="M142.9 538.9L143.6 545.9L145.0 571.1L156.2 566.9L174.3 564.1L188.3 559.9L194.6 553.6L196.7 541.7L199.5 534.7" fill="#fff" stroke="#000" stroke-width="1.4" stroke-linejoin="round" stroke-linecap="round"/><path d="M150.6 551.5C150.9 553.1 151.7 558.7 152.7 561.3C153.6 563.9 155.6 566.0 156.2 566.9" fill="none" stroke="#000" stroke-width="1.4" stroke-linejoin="round" stroke-linecap="round"/><path d="M167.3 551.5C166.9 552.7 166.4 556.6 164.5 558.5C162.7 560.4 159.0 562.0 156.2 562.7C153.4 563.4 149.2 562.7 147.8 562.7" fill="none" stroke="#000" stroke-width="1.2" stroke-linejoin="round" stroke-linecap="round"/><path d="M136.3 497.0C136.5 494.6 136.4 487.3 137.3 483.0C138.1 478.7 139.0 474.3 141.5 471.1C143.9 467.9 147.9 465.3 152.0 463.7C156.0 462.0 161.3 461.4 165.9 461.3C170.6 461.2 175.9 461.8 179.9 463.1C184.0 464.4 187.8 466.6 190.4 469.0C193.0 471.4 194.4 474.9 195.6 477.4C196.8 479.8 194.4 481.2 197.4 483.7C200.4 486.1 211.3 489.8 213.5 492.1C215.7 494.3 211.1 491.5 210.7 497.0C210.3 502.4 212.8 518.6 211.0 524.9C209.1 531.2 202.1 531.9 199.5 534.7C196.9 537.5 198.6 539.7 195.3 541.7C192.1 543.7 184.8 545.9 179.9 546.6C175.0 547.3 170.6 546.7 165.9 545.9C161.3 545.1 155.7 543.5 152.0 541.7C148.2 540.0 145.8 538.2 143.6 535.4C141.4 532.6 140.0 528.1 138.7 524.9C137.4 521.8 136.3 521.2 135.9 516.5C135.5 511.9 136.2 500.2 136.3 497.0" fill="#fff" stroke="#000" stroke-width="1.6" stroke-linejoin="round"/><path d="M137.3 485.1C138.6 486.7 141.4 492.2 145.0 494.9C148.6 497.5 153.8 499.4 159.0 500.9C164.1 502.4 172.9 503.4 175.7 504.0" fill="none" stroke="#000" stroke-width="1.1" stroke-linejoin="round" stroke-linecap="round"/><path d="M145.0 474.6C146.1 476.0 148.9 480.6 152.0 483.0C155.0 485.3 159.9 487.4 163.1 488.6C166.4 489.7 170.1 489.7 171.5 490.0" fill="none" stroke="#000" stroke-width="0.9" stroke-linejoin="round" stroke-linecap="round"/><path d="M137.3 516.5C138.8 518.2 142.8 523.9 146.4 526.3C150.0 528.8 155.0 530.1 159.0 531.2C162.9 532.4 168.3 533.0 170.1 533.3" fill="none" stroke="#000" stroke-width="1.2" stroke-linejoin="round" stroke-linecap="round"/><path d="M141.5 532.6C143.2 533.8 147.9 537.7 152.0 539.6C156.0 541.6 161.7 543.2 165.9 544.2C170.1 545.2 172.5 546.2 177.1 545.6C181.8 545.0 190.2 542.4 193.9 540.6C197.6 538.8 198.6 535.7 199.5 534.7" fill="none" stroke="#000" stroke-width="1.2" stroke-linejoin="round" stroke-linecap="round"/><path d="M143.6 537.5C145.4 538.7 150.3 542.7 154.8 544.5C159.2 546.3 165.5 548.0 170.1 548.4C174.8 548.9 178.6 548.3 182.7 547.3C186.8 546.3 192.6 543.2 194.6 542.4" fill="none" stroke="#000" stroke-width="1.0" stroke-linejoin="round" stroke-linecap="round"/><path d="M170.1 510.9L170.1 538.9" fill="none" stroke="#000" stroke-width="1.1" stroke-linejoin="round" stroke-linecap="round"/><path d="M177.1 510.2L177.8 541.7L175.7 544.5" fill="none" stroke="#000" stroke-width="1.1" stroke-linejoin="round" stroke-linecap="round"/><path d="M170.1 510.2L175.7 506.7L188.3 508.1L210.7 497.0" fill="none" stroke="#000" stroke-width="1.2" stroke-linejoin="round" stroke-linecap="round"/><path d="M179.9 512.3L186.2 510.2L188.3 518.6L182.0 521.0Z" fill="#fff" stroke="#000" stroke-width="1.5" stroke-linejoin="round"/><path d="M190.4 516.5L196.7 514.4L198.1 525.6L191.8 528.0Z" fill="#fff" stroke="#000" stroke-width="1.5" stroke-linejoin="round"/><path d="M201.6 520.7L209.6 517.2L210.4 527.7L203.0 531.2Z" fill="#fff" stroke="#000" stroke-width="1.5" stroke-linejoin="round"/><path d="M179.9 534.7L186.9 532.6L188.3 541.7L181.3 543.8Z" fill="#fff" stroke="#000" stroke-width="1.5" stroke-linejoin="round"/><path d="M158.3 538.2L167.3 537.5L168.0 543.8L159.0 544.5Z" fill="#fff" stroke="#000" stroke-width="1.5" stroke-linejoin="round"/><path d="M164.5 494.9L173.6 494.9L173.6 501.9L164.5 501.9Z" fill="#fff" stroke="#000" stroke-width="0.9" stroke-linejoin="round"/><path d="M175.7 492.8L182.7 490.0L189.7 492.1L190.4 499.8L184.1 503.3L176.4 501.2Z" fill="#fff" stroke="#000" stroke-width="1.5" stroke-linejoin="round"/><ellipse cx="185.5" cy="497.0" rx="3.5" ry="5.5" transform="rotate(-15 185.5 497.0)" fill="#fff" stroke="#000" stroke-width="1.4"/><path d="M188.3 485.1L195.3 482.3L199.5 485.1L213.5 492.1L211.4 497.0L207.9 497.0L195.3 492.8L190.4 493.5Z" fill="#fff" stroke="#000" stroke-width="1.5" stroke-linejoin="round"/><path d="M197.4 483.7L196.0 492.8" fill="none" stroke="#000" stroke-width="1.2" stroke-linejoin="round" stroke-linecap="round"/><path d="M201.6 485.8L199.5 494.4" fill="none" stroke="#000" stroke-width="1.2" stroke-linejoin="round" stroke-linecap="round"/><path d="M200.9 497.0L207.9 497.0L210.0 504.7L203.0 504.0Z" fill="#fff" stroke="#000" stroke-width="1.3" stroke-linejoin="round"/><path d="M153.4 467.6L163.1 469.7L172.9 469.0" fill="none" stroke="#000" stroke-width="1.8" stroke-linejoin="round" stroke-linecap="round"/><path d="M150.6 477.4L159.0 470.7" fill="none" stroke="#000" stroke-width="1.8" stroke-linejoin="round" stroke-linecap="round"/><path d="M158.3 480.2L165.2 472.5" fill="none" stroke="#000" stroke-width="1.8" stroke-linejoin="round" stroke-linecap="round"/><path d="M163.8 484.4L171.5 476.0" fill="none" stroke="#000" stroke-width="1.8" stroke-linejoin="round" stroke-linecap="round"/><path d="M170.1 487.9L177.1 479.5L182.7 481.6" fill="none" stroke="#000" stroke-width="1.8" stroke-linejoin="round" stroke-linecap="round"/><path d="M174.3 473.2L188.3 478.8L193.9 477.4" fill="none" stroke="#000" stroke-width="1.8" stroke-linejoin="round" stroke-linecap="round"/><path d="M167.3 464.8L174.3 473.2" fill="none" stroke="#000" stroke-width="1.8" stroke-linejoin="round" stroke-linecap="round"/><path d="M179.9 469.0L188.3 468.3L195.3 471.8L188.3 473.9Z" fill="#000" stroke="#000" stroke-width="1.0" stroke-linejoin="round"/><path d="M135.2 527.7L142.9 527.7L143.6 545.9L142.4 578.1L140.1 586.5L136.9 586.7L135.6 578.1L134.9 545.9Z" fill="#fff" stroke="#000" stroke-width="1.5" stroke-linejoin="round"/><path d="M133.8 540.3L143.6 544.5" fill="none" stroke="#000" stroke-width="1.2" stroke-linejoin="round" stroke-linecap="round"/><path d="M134.1 544.5L143.3 549.0" fill="none" stroke="#000" stroke-width="1.2" stroke-linejoin="round" stroke-linecap="round"/><ellipse cx="138.7" cy="526.0" rx="5.2" ry="2.8" transform="rotate(5 138.7 526.0)" fill="#fff" stroke="#000" stroke-width="1.5"/><ellipse cx="138.7" cy="525.8" rx="1.6" ry="0.9" transform="rotate(5 138.7 525.8)" fill="#fff" stroke="#000" stroke-width="0.9"/><path d="M85.9 653.5L90.9 644.6L108.7 630.7L124.5 620.8L134.4 610.9L142.4 605.9L158.2 605.5L178.0 610.9L197.8 619.8L213.7 631.7L223.6 645.6L231.5 661.4L233.5 679.3L233.5 711.0L239.5 717.3L231.5 722.8L221.6 726.8L211.7 726.8L201.8 720.9L191.9 715.9L188.9 711.0L193.9 705.0L203.8 702.0L206.8 698.1L201.8 697.1L186.0 699.1L160.2 712.9L158.2 723.8L147.3 730.8L151.3 731.8L155.2 741.7L155.2 748.6L145.3 756.5L132.5 747.6L131.5 742.7L124.5 736.7L110.7 734.7L100.8 726.8L89.9 714.9L88.9 708.0L85.9 701.1Z" fill="#fff" stroke="#000" stroke-width="1.7" stroke-linejoin="round"/><path d="M124.5 621.4L126.9 619.8" fill="none" stroke="#000" stroke-width="1.2" stroke-linejoin="round" stroke-linecap="round"/><path d="M140.4 607.9C142.7 609.0 149.3 611.9 154.3 614.3C159.2 616.6 164.5 619.4 170.1 622.2C175.7 625.0 183.6 628.9 187.9 630.9C192.3 632.9 194.9 633.6 196.3 634.1" fill="none" stroke="#000" stroke-width="2.4" stroke-linejoin="round" stroke-linecap="round"/><path d="M196.3 634.1L209.7 642.6L218.1 649.5" fill="none" stroke="#000" stroke-width="1.3" stroke-linejoin="round" stroke-linecap="round"/><path d="M196.3 634.1C197.2 633.8 198.9 631.8 201.8 632.7C204.7 633.6 210.0 635.8 213.7 639.6C217.4 643.4 221.7 650.5 224.0 655.5C226.3 660.4 227.0 667.0 227.6 669.3" fill="none" stroke="#000" stroke-width="1.0" stroke-linejoin="round" stroke-linecap="round"/><path d="M126.9 618.8L134.4 616.8L135.4 631.7L131.5 634.7L127.5 632.7Z" fill="#fff" stroke="#000" stroke-width="1.4" stroke-linejoin="round"/><path d="M131.1 618.2L131.5 633.7" fill="none" stroke="#000" stroke-width="1.0" stroke-linejoin="round" stroke-linecap="round"/><path d="M171.1 631.3L178.0 629.3L186.9 632.7L186.0 637.6L178.0 638.6L171.1 635.7Z" fill="#fff" stroke="#000" stroke-width="1.4" stroke-linejoin="round"/><path d="M178.0 629.7L178.4 638.0" fill="none" stroke="#000" stroke-width="1.0" stroke-linejoin="round" stroke-linecap="round"/><path d="M117.6 676.3C120.4 674.5 129.0 667.7 134.4 665.4C139.9 663.1 146.0 662.4 150.3 662.4C154.6 662.4 158.2 663.7 160.2 665.4C162.2 667.0 161.9 671.2 162.2 672.3" fill="none" stroke="#000" stroke-width="0.9" stroke-linejoin="round" stroke-linecap="round"/><path d="M182.0 638.6L182.0 659.4" fill="none" stroke="#000" stroke-width="0.9" stroke-linejoin="round" stroke-linecap="round"/><ellipse cx="222.0" cy="698.1" rx="0.9" ry="1.6" transform="rotate(0 222.0 698.1)" fill="#fff" stroke="#000" stroke-width="0.8"/><ellipse cx="225.6" cy="698.5" rx="1.2" ry="1.9" transform="rotate(0 225.6 698.5)" fill="#fff" stroke="#000" stroke-width="0.8"/><ellipse cx="197.8" cy="711.0" rx="1.4" ry="1.9" transform="rotate(20 197.8 711.0)" fill="#fff" stroke="#000" stroke-width="1.0"/><ellipse cx="215.7" cy="721.9" rx="1.4" ry="1.9" transform="rotate(20 215.7 721.9)" fill="#fff" stroke="#000" stroke-width="1.0"/><path d="M86.5 653.9L96.8 666.4L107.7 676.3L124.5 678.3L145.3 690.2L152.3 689.2L154.3 687.2L154.3 676.3L162.2 672.3L162.2 681.2L168.1 678.3L168.1 668.4L185.0 659.4L185.0 670.3L188.9 668.4L188.9 657.5L205.8 655.5L216.7 650.5L218.1 649.1L217.7 689.2L201.8 697.1L186.0 699.1L160.2 712.9L158.2 723.8L147.3 730.8L151.3 731.8L155.2 741.7L155.2 748.6L145.3 756.5L132.5 747.6L131.5 742.7L124.5 736.7L110.7 734.7L100.8 726.8L89.9 714.9L88.9 708.0L85.9 701.1L85.9 653.9Z" fill="#fff" stroke="#000" stroke-width="1.6" stroke-linejoin="round"/><path d="M86.5 653.9L96.8 666.4L107.7 676.3L124.5 678.3L145.3 690.2L152.3 689.2L154.3 687.2L154.3 676.3L162.2 672.3L162.2 681.2L168.1 678.3L168.1 668.4L185.0 659.4L185.0 670.3L188.9 668.4L188.9 657.5L205.8 655.5L216.7 650.5L218.1 649.1" fill="none" stroke="#000" stroke-width="2.0" stroke-linejoin="round" stroke-linecap="round"/><path d="M145.3 690.2L145.3 756.5" fill="none" stroke="#000" stroke-width="1.5" stroke-linejoin="round" stroke-linecap="round"/><path d="M155.2 689.2L155.8 705.0L161.2 708.0L161.2 712.9" fill="none" stroke="#000" stroke-width="1.1" stroke-linejoin="round" stroke-linecap="round"/><ellipse cx="174.1" cy="686.2" rx="3.2" ry="4.2" transform="rotate(20 174.1 686.2)" fill="#fff" stroke="#000" stroke-width="1.2"/><path d="M183.0 680.2L188.9 678.3L189.9 685.2L186.9 688.2L186.9 693.1L184.6 693.5L184.4 688.2L182.6 685.6Z" fill="#fff" stroke="#000" stroke-width="1.2" stroke-linejoin="round"/><path d="M163.2 692.1L167.7 689.6L168.1 697.1L165.7 701.1L165.2 706.0L163.2 706.6Z" fill="#fff" stroke="#000" stroke-width="1.2" stroke-linejoin="round"/><ellipse cx="97.4" cy="685.8" rx="1.4" ry="1.9" transform="rotate(20 97.4 685.8)" fill="#fff" stroke="#000" stroke-width="1.0"/><ellipse cx="155.8" cy="711.0" rx="1.4" ry="1.9" transform="rotate(20 155.8 711.0)" fill="#fff" stroke="#000" stroke-width="1.0"/><ellipse cx="149.3" cy="745.0" rx="3.2" ry="2.2" transform="rotate(-25 149.3 745.0)" fill="#fff" stroke="#000" stroke-width="1.1"/><path d="M215.7 707.0L215.7 738.7" fill="none" stroke="#000" stroke-width="1.2" stroke-linejoin="round" stroke-linecap="round"/><path d="M213.7 739.3L218.1 739.3L218.8 752.6L218.1 762.5L214.1 762.5L213.1 752.6Z" fill="#fff" stroke="#000" stroke-width="1.2" stroke-linejoin="round"/><path d="M213.3 752.6L218.8 752.6" fill="none" stroke="#000" stroke-width="1.0" stroke-linejoin="round" stroke-linecap="round"/><path d="M213.7 756.5L218.5 756.5" fill="none" stroke="#000" stroke-width="1.0" stroke-linejoin="round" stroke-linecap="round"/><path d="M266.0 720.7L266.0 735.0L262.0 733.0" fill="none" stroke="#000" stroke-width="1.3"/><path d="M216.7 708.7L240.7 721.3" fill="none" stroke="#000" stroke-width="1.3"/><path d="M247.3 725.0L253.3 728.3" fill="none" stroke="#000" stroke-width="1.3"/><path d="M260.0 711.7L263.3 707.3L269.3 708.0L272.0 712.7L270.0 717.3L263.3 718.0Z" fill="#fff" stroke="#000" stroke-width="1.3" stroke-linejoin="round"/><ellipse cx="266.0" cy="712.7" rx="2.6" ry="2.0" transform="rotate(0 266.0 712.7)" fill="#fff" stroke="#000" stroke-width="1.1"/><path d="M260.0 711.7L261.3 715.3L265.3 717.3" fill="none" stroke="#000" stroke-width="0.9" stroke-linejoin="round" stroke-linecap="round"/><path d="M343.5 808.3L349.5 807.9L353.7 810.0L357.2 813.9L361.4 816.7L364.2 820.2L366.6 823.7L364.9 832.1L355.8 828.6L353.0 827.2L348.8 827.2L339.3 822.3L339.7 818.8L341.8 812.5Z" fill="#fff" stroke="#000" stroke-width="1.4" stroke-linejoin="round"/><path d="M355.8 828.6L360.0 817.4" fill="none" stroke="#000" stroke-width="1.0" stroke-linejoin="round" stroke-linecap="round"/><path d="M353.0 827.2L357.2 816.0" fill="none" stroke="#000" stroke-width="1.0" stroke-linejoin="round" stroke-linecap="round"/><path d="M343.9 808.6L349.1 808.3L350.5 812.8L345.3 813.3Z" fill="#fff" stroke="#000" stroke-width="1.0" stroke-linejoin="round"/><path d="M340.0 820.5L345.3 821.9" fill="none" stroke="#000" stroke-width="1.0" stroke-linejoin="round" stroke-linecap="round"/><path d="M320.5 877.0L326.2 874.5L333.0 880.5L330.0 885.5L323.8 883.0Z" fill="#fff" stroke="#000" stroke-width="1.3" stroke-linejoin="round"/><ellipse cx="323.0" cy="878.0" rx="2.2" ry="2.2" transform="rotate(0 323.0 878.0)" fill="#fff" stroke="#000" stroke-width="1.1"/><path d="M392.3 959.8L396.2 957.0L400.0 957.7L399.0 971.0L395.5 970.3L392.7 967.5Z" fill="#000" stroke="#000" stroke-width="1.0" stroke-linejoin="round"/><path d="M396.2 960.5L399.0 958.7L405.3 961.5L408.1 960.1L413.0 961.5L415.8 965.0L415.4 972.4L413.0 975.9L404.6 980.8L401.1 979.4L399.7 976.6L397.2 973.1L395.5 968.9Z" fill="#fff" stroke="#000" stroke-width="1.4" stroke-linejoin="round"/><path d="M405.3 961.5L406.0 971.0L404.6 980.8" fill="none" stroke="#000" stroke-width="1.0" stroke-linejoin="round" stroke-linecap="round"/><path d="M406.0 971.0L413.0 975.9" fill="none" stroke="#000" stroke-width="1.0" stroke-linejoin="round" stroke-linecap="round"/><ellipse cx="410.5" cy="971.0" rx="2.6" ry="4.0" transform="rotate(20 410.5 971.0)" fill="#fff" stroke="#000" stroke-width="1.2"/><ellipse cx="410.5" cy="971.0" rx="1.2" ry="2.2" transform="rotate(20 410.5 971.0)" fill="#fff" stroke="#000" stroke-width="0.9"/><path d="M400.0 966.8L403.2 966.1L404.2 971.0L401.4 973.1" fill="none" stroke="#000" stroke-width="1.0" stroke-linejoin="round" stroke-linecap="round"/><path d="M210.0 861.0L223.8 866.0" fill="none" stroke="#000" stroke-width="5.6" stroke-linejoin="round" stroke-linecap="round"/><path d="M210.0 861.0L223.8 866.0" fill="none" stroke="#fff" stroke-width="2.2" stroke-linejoin="round" stroke-linecap="round"/><ellipse cx="227.0" cy="868.0" rx="3.4" ry="7.0" transform="rotate(25 227.0 868.0)" fill="#fff" stroke="#000" stroke-width="1.5"/><ellipse cx="228.5" cy="868.8" rx="2.4" ry="5.5" transform="rotate(25 228.5 868.8)" fill="#fff" stroke="#000" stroke-width="1.0"/><path d="M240.5 963.8L246.2 951.2L250.0 952.5L252.0 962.5L252.5 972.5L248.8 977.5L242.5 980.0L240.5 975.0Z" fill="#fff" stroke="#000" stroke-width="1.3" stroke-linejoin="round"/><path d="M240.5 963.8L246.2 966.2L252.0 962.5" fill="none" stroke="#000" stroke-width="1.0" stroke-linejoin="round" stroke-linecap="round"/><path d="M246.2 966.2L247.0 978.0" fill="none" stroke="#000" stroke-width="1.0" stroke-linejoin="round" stroke-linecap="round"/><path d="M266.2 980.0L271.2 975.0L277.5 976.2L279.0 986.2L277.5 993.8L270.0 996.2L266.5 990.0Z" fill="#fff" stroke="#000" stroke-width="1.3" stroke-linejoin="round"/><path d="M266.2 980.0L272.5 983.8L279.0 981.2" fill="none" stroke="#000" stroke-width="1.0" stroke-linejoin="round" stroke-linecap="round"/><path d="M272.5 983.8L273.0 995.5" fill="none" stroke="#000" stroke-width="1.0" stroke-linejoin="round" stroke-linecap="round"/><path d="M333.0 990.5L338.8 987.5L345.0 991.2L346.5 1005.0L342.5 1008.0L336.2 1006.2L335.0 998.8Z" fill="#fff" stroke="#000" stroke-width="1.3" stroke-linejoin="round"/><path d="M338.8 987.5L340.5 1007.0" fill="none" stroke="#000" stroke-width="1.0" stroke-linejoin="round" stroke-linecap="round"/><path d="M314.5 1007.0L316.5 1015.5" fill="none" stroke="#000" stroke-width="1.2" stroke-linejoin="round" stroke-linecap="round"/><path d="M318.0 1006.5L319.5 1014.5" fill="none" stroke="#000" stroke-width="1.2" stroke-linejoin="round" stroke-linecap="round"/><path d="M311.2 1017.0L315.5 1014.5L321.2 1016.2L321.0 1020.0L316.2 1023.0L312.0 1020.5Z" fill="#fff" stroke="#000" stroke-width="1.4" stroke-linejoin="round"/><ellipse cx="316.5" cy="1018.5" rx="1.8" ry="1.4" transform="rotate(0 316.5 1018.5)" fill="#fff" stroke="#000" stroke-width="1.0"/><path d="M408.8 992.7L416.5 992.0L420.0 995.5L421.4 1000.3L421.4 1005.2L424.2 1005.9L425.6 1009.4L425.2 1015.7L422.1 1017.5L413.0 1019.6L408.8 1017.1L406.7 1011.5L406.7 1005.9L408.8 1003.1Z" fill="#fff" stroke="#000" stroke-width="1.4" stroke-linejoin="round"/><path d="M408.6 992.5L409.1 1000.5" fill="none" stroke="#000" stroke-width="2.2" stroke-linejoin="round" stroke-linecap="round"/><path d="M410.9 1001.4C411.8 1001.5 414.7 1002.3 416.5 1002.1C418.2 1001.9 420.5 1000.6 421.4 1000.3" fill="none" stroke="#000" stroke-width="1.0" stroke-linejoin="round" stroke-linecap="round"/><path d="M409.1 1003.8C410.1 1004.1 413.0 1005.6 415.1 1005.6C417.1 1005.6 420.3 1004.1 421.4 1003.8" fill="none" stroke="#000" stroke-width="1.0" stroke-linejoin="round" stroke-linecap="round"/><path d="M407.4 1005.9C408.5 1006.5 412.0 1009.3 414.4 1009.4C416.7 1009.6 420.2 1007.4 421.4 1007.0" fill="none" stroke="#000" stroke-width="1.0" stroke-linejoin="round" stroke-linecap="round"/><path d="M421.4 1005.9L424.2 1005.9L425.2 1010.1L422.1 1010.8Z" fill="#fff" stroke="#000" stroke-width="1.0" stroke-linejoin="round"/><path d="M202.8 1011.2L202.8 1033.2" fill="none" stroke="#000" stroke-width="1.3" stroke-linejoin="round" stroke-linecap="round"/><path d="M200.7 1033.0L205.4 1033.0" fill="none" stroke="#000" stroke-width="1.3" stroke-linejoin="round" stroke-linecap="round"/><path d="M189.7 997.0L196.0 994.9L197.6 991.8L201.2 990.2L204.9 991.8L206.5 987.6L209.6 985.5L213.8 987.6L214.9 990.7L214.9 1002.3L196.0 1013.3L192.8 1012.2L190.2 1009.6Z" fill="#fff" stroke="#000" stroke-width="2.2" stroke-linejoin="round"/><path d="M196.0 994.9L196.5 1006.5L196.0 1013.3" fill="none" stroke="#000" stroke-width="1.1" stroke-linejoin="round" stroke-linecap="round"/><path d="M197.6 992.3C197.9 993.4 199.6 996.9 199.7 999.1C199.7 1001.3 197.6 1004.2 198.1 1005.4C198.5 1006.6 201.2 1007.2 202.3 1006.5C203.3 1005.8 204.3 1003.1 204.4 1001.2C204.5 999.3 202.7 996.5 202.8 994.9C202.9 993.4 204.5 992.3 204.9 991.8" fill="none" stroke="#000" stroke-width="1.2" stroke-linejoin="round" stroke-linecap="round"/><path d="M206.5 988.1C206.8 989.2 208.6 992.7 208.6 994.9C208.6 997.1 206.1 1000.4 206.5 1001.2C206.8 1002.1 209.6 1001.2 210.7 1000.2C211.7 999.1 212.7 996.9 212.8 994.9C212.9 993.0 211.5 989.7 211.2 988.6" fill="none" stroke="#000" stroke-width="1.2" stroke-linejoin="round" stroke-linecap="round"/><path d="M196.5 1006.5L214.9 996.0" fill="none" stroke="#000" stroke-width="1.0" stroke-linejoin="round" stroke-linecap="round"/><path d="M198.6 1029.5L193.9 1032.2L191.8 1035.3L194.4 1037.9L200.2 1042.1L201.7 1050.5L205.4 1053.7L211.7 1057.9L212.8 1062.1L215.9 1065.2L219.1 1062.6L236.9 1053.1L236.9 1051.6L233.7 1049.5L235.3 1028.5L237.9 1025.4L243.7 1022.2L244.2 1019.6L240.0 1016.4L234.8 1015.4L228.5 1018.5L225.4 1022.2L224.8 1040.0L223.3 1043.7L220.1 1043.2L218.5 1040.0L217.0 1033.7L213.8 1029.5L208.6 1026.9" fill="none" stroke="#000" stroke-width="2.1" stroke-linejoin="round" stroke-linecap="round"/><ellipse cx="236.9" cy="1020.1" rx="1.8" ry="1.1" transform="rotate(-20 236.9 1020.1)" fill="#fff" stroke="#000" stroke-width="1.0"/><ellipse cx="225.4" cy="1049.5" rx="1.8" ry="1.1" transform="rotate(-20 225.4 1049.5)" fill="#fff" stroke="#000" stroke-width="1.0"/><path d="M200.7 1038.5C201.3 1037.9 202.9 1036.0 204.4 1035.3C205.9 1034.6 208.7 1034.4 209.6 1034.3" fill="none" stroke="#000" stroke-width="0.9" stroke-linejoin="round" stroke-linecap="round"/><path d="M322.7 1069.1L322.7 1083.5L304.3 1083.5L304.3 1093.7" fill="none" stroke="#000" stroke-width="1.3" stroke-linejoin="round" stroke-linecap="round"/><path d="M275.5 1056.5L283.4 1051.8L301.2 1061.2L302.2 1065.4L302.8 1087.4L311.7 1092.7L311.2 1095.8L300.7 1102.1L296.5 1108.4L293.8 1106.3L292.8 1103.2L291.2 1104.8L288.6 1104.2L287.6 1100.0L289.1 1096.9L293.3 1094.8L291.2 1091.6L291.2 1068.6L289.1 1066.5L275.5 1059.7Z" fill="#fff" stroke="#000" stroke-width="2.1" stroke-linejoin="round"/><ellipse cx="283.7" cy="1056.5" rx="2.0" ry="1.2" transform="rotate(10 283.7 1056.5)" fill="#fff" stroke="#000" stroke-width="1.0"/><ellipse cx="303.8" cy="1094.3" rx="2.0" ry="1.2" transform="rotate(10 303.8 1094.3)" fill="#fff" stroke="#000" stroke-width="1.0"/><path d="M320.1 1059.7L325.3 1059.7L325.3 1068.0L322.7 1069.4L320.1 1068.0Z" fill="#fff" stroke="#000" stroke-width="1.4" stroke-linejoin="round"/><ellipse cx="322.2" cy="1057.0" rx="4.3" ry="3.4" transform="rotate(0 322.2 1057.0)" fill="#fff" stroke="#000" stroke-width="1.5"/><path d="M319.0 1057.6L325.3 1057.6" fill="none" stroke="#000" stroke-width="1.0" stroke-linejoin="round" stroke-linecap="round"/><path d="M321.1 1054.9L321.1 1059.7" fill="none" stroke="#000" stroke-width="1.0" stroke-linejoin="round" stroke-linecap="round"/><path d="M323.7 1054.9L323.7 1059.7" fill="none" stroke="#000" stroke-width="1.0" stroke-linejoin="round" stroke-linecap="round"/><path d="M424.5 1040.0L431.2 1035.0L437.5 1037.5L440.5 1046.2L440.0 1058.8L435.0 1063.0L429.5 1062.0L424.5 1053.8Z" fill="#fff" stroke="#000" stroke-width="1.6" stroke-linejoin="round"/><path d="M424.5 1040.0L429.5 1046.2L431.2 1035.0" fill="none" stroke="#000" stroke-width="1.0" stroke-linejoin="round" stroke-linecap="round"/><path d="M425.0 1045.0L432.5 1051.2L425.0 1053.8" fill="none" stroke="#000" stroke-width="1.2" stroke-linejoin="round" stroke-linecap="round"/><path d="M426.0 1055.0L433.8 1056.2L429.5 1062.0" fill="none" stroke="#000" stroke-width="1.2" stroke-linejoin="round" stroke-linecap="round"/><path d="M429.5 1046.2L434.5 1048.0L435.0 1063.0" fill="none" stroke="#000" stroke-width="1.0" stroke-linejoin="round" stroke-linecap="round"/><path d="M443.1 990.0L445.8 987.6L454.2 992.6L456.8 992.1L460.5 995.7L459.4 1001.5L455.7 1001.0L453.1 997.8L444.2 993.6Z" fill="#fff" stroke="#000" stroke-width="1.4" stroke-linejoin="round"/><path d="M454.2 992.6L453.1 997.8" fill="none" stroke="#000" stroke-width="1.0" stroke-linejoin="round" stroke-linecap="round"/><ellipse cx="464.3" cy="1001.5" rx="4.2" ry="7.2" transform="rotate(30 464.3 1001.5)" fill="#fff" stroke="#000" stroke-width="1.5"/><ellipse cx="465.2" cy="1001.8" rx="3.0" ry="5.6" transform="rotate(30 465.2 1001.8)" fill="#fff" stroke="#000" stroke-width="1.0"/><path d="M490.5 1150.0L496.2 1148.0L498.0 1155.0L492.0 1157.0Z" fill="#fff" stroke="#000" stroke-width="1.3" stroke-linejoin="round"/><path d="M490.5 1160.0L498.0 1158.8L500.0 1167.5L496.2 1170.5L490.5 1167.5Z" fill="#fff" stroke="#000" stroke-width="1.4" stroke-linejoin="round"/><path d="M493.8 1157.0L493.8 1160.0" fill="none" stroke="#000" stroke-width="2.0" stroke-linejoin="round" stroke-linecap="round"/><path d="M415.5 1167.5C416.5 1166.9 418.9 1163.8 421.2 1163.8C423.6 1163.7 427.7 1165.1 429.5 1167.0C431.3 1168.9 431.5 1171.8 432.0 1175.0C432.5 1178.2 433.5 1183.4 432.5 1186.2C431.5 1189.1 428.7 1191.3 426.2 1192.0C423.8 1192.7 420.1 1192.5 418.0 1190.5C415.9 1188.5 414.3 1183.0 413.8 1180.0C413.2 1177.0 414.2 1174.6 414.5 1172.5C414.8 1170.4 415.3 1168.3 415.5 1167.5" fill="#fff" stroke="#000" stroke-width="1.5" stroke-linejoin="round"/><path d="M415.0 1173.0C416.2 1173.5 419.8 1176.1 422.5 1176.2C425.2 1176.4 430.0 1174.2 431.5 1173.8" fill="none" stroke="#000" stroke-width="1.0" stroke-linejoin="round" stroke-linecap="round"/><path d="M416.5 1165.5C417.8 1166.2 421.8 1169.3 424.0 1169.5C426.2 1169.7 429.0 1167.0 430.0 1166.5" fill="none" stroke="#000" stroke-width="1.0" stroke-linejoin="round" stroke-linecap="round"/><path d="M495.1 1001.0L498.7 995.7L505.0 992.1L511.3 994.2L515.5 998.4L516.6 1006.2L513.4 1009.4L512.4 1015.7L505.0 1016.2L496.6 1011.5L495.1 1007.3Z" fill="#fff" stroke="#000" stroke-width="1.5" stroke-linejoin="round"/><path d="M498.7 995.7L502.9 1005.2L505.0 1016.2" fill="none" stroke="#000" stroke-width="1.0" stroke-linejoin="round" stroke-linecap="round"/><path d="M502.9 1005.2L507.1 999.9L513.4 1001.0" fill="none" stroke="#000" stroke-width="1.0" stroke-linejoin="round" stroke-linecap="round"/><path d="M496.6 1006.7L500.3 1007.8L500.8 1012.0L497.2 1010.9Z" fill="#000" stroke="#000" stroke-width="0.8" stroke-linejoin="round"/><path d="M510.3 996.8L513.4 997.8L514.0 1000.5L511.3 999.9Z" fill="#000" stroke="#000" stroke-width="0.8" stroke-linejoin="round"/><ellipse cx="515.0" cy="1011.5" rx="3.2" ry="5.5" transform="rotate(30 515.0 1011.5)" fill="#fff" stroke="#000" stroke-width="1.5"/><ellipse cx="515.7" cy="1011.9" rx="2.2" ry="4.4" transform="rotate(30 515.7 1011.9)" fill="#fff" stroke="#000" stroke-width="1.0"/><path d="M541.2 1027.0L550.0 1023.8L553.0 1031.2L550.0 1037.5L543.8 1035.0Z" fill="#fff" stroke="#000" stroke-width="1.3" stroke-linejoin="round"/><path d="M550.0 1023.8L558.0 1025.5" fill="none" stroke="#000" stroke-width="1.2" stroke-linejoin="round" stroke-linecap="round"/><ellipse cx="558.0" cy="1025.8" rx="1.3" ry="1.3" transform="rotate(0 558.0 1025.8)" fill="#fff" stroke="#000" stroke-width="1.0"/><path d="M570.5 1073.8L578.8 1070.0L585.0 1072.0L583.8 1077.5L576.2 1082.5L572.5 1080.0Z" fill="#fff" stroke="#000" stroke-width="1.3" stroke-linejoin="round"/><path d="M583.8 1073.0L596.2 1070.0" fill="none" stroke="#000" stroke-width="1.2" stroke-linejoin="round" stroke-linecap="round"/><path d="M592.5 1069.5L597.0 1068.0L598.0 1072.5L594.0 1074.0Z" fill="#fff" stroke="#000" stroke-width="1.1" stroke-linejoin="round"/><path d="M555.5 1140.0L560.0 1136.2L566.2 1143.0L562.5 1148.0L557.0 1146.2Z" fill="#fff" stroke="#000" stroke-width="1.3" stroke-linejoin="round"/><path d="M565.5 1144.5L578.8 1148.8L580.0 1153.0L575.0 1153.8L565.0 1148.8Z" fill="#fff" stroke="#000" stroke-width="1.2" stroke-linejoin="round"/><path d="M460.0 1167.5L465.0 1162.5L472.5 1163.8L475.0 1170.0L471.2 1175.0L475.0 1180.0L473.8 1187.5L465.0 1190.0L459.5 1185.0L458.8 1176.2L462.5 1173.0Z" fill="#fff" stroke="#000" stroke-width="1.5" stroke-linejoin="round"/><path d="M462.5 1173.0L471.2 1175.0" fill="none" stroke="#000" stroke-width="1.0" stroke-linejoin="round" stroke-linecap="round"/><path d="M460.0 1178.8L475.0 1180.0" fill="none" stroke="#000" stroke-width="1.0" stroke-linejoin="round" stroke-linecap="round"/><path d="M462.0 1183.8L468.0 1184.5L468.0 1188.0L462.5 1187.5Z" fill="#fff" stroke="#000" stroke-width="1.0" stroke-linejoin="round"/><path d="M467.0 1163.8L470.0 1173.8" fill="none" stroke="#000" stroke-width="1.0" stroke-linejoin="round" stroke-linecap="round"/><path d="M512.2 827.3L512.8 836.3L526.9 842.1L528.8 844.6L544.9 851.0L542.3 858.1L541.7 867.1L544.2 869.0L545.5 865.8L547.4 869.6L549.4 872.8L551.3 869.6L550.6 856.8L566.7 847.8L569.9 841.4L575.6 838.2L584.6 840.1L589.7 838.2L592.3 827.3L592.3 822.8L599.4 819.0L600.0 814.5L595.5 811.3L589.7 811.9L583.3 815.8L580.1 820.9L580.1 831.8L575.6 832.4L556.4 817.1L553.8 815.1" fill="none" stroke="#000" stroke-width="2.3" stroke-linejoin="round" stroke-linecap="round"/><ellipse cx="519.2" cy="816.4" rx="8.5" ry="4.6" transform="rotate(5 519.2 816.4)" fill="#fff" stroke="#000" stroke-width="2.2"/><path d="M512.2 827.3L517.9 824.5L527.6 827.3L527.6 828.8L517.9 827.6" fill="none" stroke="#000" stroke-width="2.2" stroke-linejoin="round" stroke-linecap="round"/><ellipse cx="548.1" cy="817.7" rx="8.0" ry="4.4" transform="rotate(5 548.1 817.7)" fill="#fff" stroke="#000" stroke-width="2.2"/><path d="M526.3 815.8C527.7 816.7 533.1 818.2 534.6 821.5C536.1 824.9 534.4 832.6 535.3 835.6C536.1 838.6 537.3 839.0 539.7 839.5C542.2 840.0 547.0 839.7 550.0 838.8C553.0 838.0 557.1 836.1 557.9 834.4C558.8 832.6 556.8 830.6 555.4 828.6C554.0 826.6 550.4 823.5 549.4 822.4" fill="none" stroke="#000" stroke-width="2.2" stroke-linejoin="round" stroke-linecap="round"/><path d="M512.8 799.1L519.2 795.9L521.2 802.9L519.2 809.4L514.4 807.4Z" fill="#fff" stroke="#000" stroke-width="1.6" stroke-linejoin="round"/><path d="M520.5 797.8L526.3 797.2L527.6 804.2L523.1 810.6L520.5 807.4L522.4 802.9Z" fill="#fff" stroke="#000" stroke-width="1.6" stroke-linejoin="round"/><path d="M517.9 809.4L517.9 815.1" fill="none" stroke="#000" stroke-width="1.2" stroke-linejoin="round" stroke-linecap="round"/><path d="M521.2 810.0L521.2 815.5" fill="none" stroke="#000" stroke-width="1.2" stroke-linejoin="round" stroke-linecap="round"/><path d="M542.1 799.1L548.5 795.9L550.4 802.9L548.5 809.4L543.6 807.4Z" fill="#fff" stroke="#000" stroke-width="1.6" stroke-linejoin="round"/><path d="M549.7 797.8L555.5 797.2L556.8 804.2L552.3 810.6L549.7 807.4L551.7 802.9Z" fill="#fff" stroke="#000" stroke-width="1.6" stroke-linejoin="round"/><path d="M547.2 809.4L547.2 815.1" fill="none" stroke="#000" stroke-width="1.2" stroke-linejoin="round" stroke-linecap="round"/><path d="M550.4 810.0L550.4 815.5" fill="none" stroke="#000" stroke-width="1.2" stroke-linejoin="round" stroke-linecap="round"/><ellipse cx="517.9" cy="832.7" rx="2.0" ry="1.5" transform="rotate(20 517.9 832.7)" fill="#fff" stroke="#000" stroke-width="1.0"/><ellipse cx="561.3" cy="844.6" rx="2.0" ry="1.5" transform="rotate(20 561.3 844.6)" fill="#fff" stroke="#000" stroke-width="1.0"/><ellipse cx="593.6" cy="815.1" rx="2.0" ry="1.5" transform="rotate(20 593.6 815.1)" fill="#fff" stroke="#000" stroke-width="1.0"/></g>
<g id="wm" style="mix-blend-mode:multiply"><text font-family="'Liberation Sans', Arial, sans-serif" font-size="133" fill="#ffd6d6" stroke="#ffd6d6" stroke-width="4" stroke-linejoin="round" transform="matrix(1 0 0 0.924 0 47.2)" x="68" y="620.5">scuderia</text><text font-family="'Liberation Sans', Arial, sans-serif" font-size="42" fill="#e8e8e8" stroke="#e8e8e8" stroke-width="1" x="65 130 189 250 302 368 432 491 545" y="675">car parts</text><path d="M582.8 531.6L602.9 538.3L612.3 558.4L589.5 555.7ZM610.9 518.2L627.0 523.5L640.4 547.6L622.2 540.9ZM667.2 537.7L690.0 542.3L699.4 562.4L676.6 558.4ZM712.8 553.0L731.6 557.0L742.3 573.6L720.9 570.4ZM645.8 551.7L674.7 559.2L682.0 580.6L653.8 573.1ZM699.4 566.4L722.2 571.8L731.6 590.5L707.5 585.7ZM745.0 578.5L763.8 582.5L770.5 602.6L751.7 597.2ZM622.2 567.7L653.8 573.1L661.9 600.5L628.4 591.3ZM682.0 581.2L707.5 586.0L717.6 609.3L691.4 604.5ZM731.6 592.4L751.7 597.2L761.6 618.2L741.0 613.3ZM592.2 587.9L617.6 595.9L628.4 618.7L600.2 613.3ZM661.9 601.3L691.4 605.3L701.6 627.3L669.9 624.6ZM718.2 610.1L741.0 614.1L749.3 635.3L726.8 631.3ZM763.2 620.8L782.5 624.0L790.0 640.1L771.8 640.1ZM637.7 632.1L669.9 625.4L679.3 661.6L648.5 665.6ZM702.1 632.1L726.8 633.4L735.6 654.1L711.5 651.4ZM749.3 636.1L771.8 640.1L780.4 656.8L757.9 655.1ZM711.5 653.5L735.6 654.9L740.2 670.2L718.2 669.1Z" fill="#e0e0e0"/></g>
<g id="labels" font-family="'Liberation Sans', Arial, sans-serif" font-size="18.5" fill="#0b3cff"><text x="488.2" y="56.5" text-anchor="start" stroke="#0b3cff" stroke-width="0.35" stroke-linejoin="round">9S305</text><text x="357.2" y="149.5" text-anchor="start" stroke="#0b3cff" stroke-width="0.35" stroke-linejoin="round">9J280</text><text x="241.2" y="236.5" text-anchor="start" stroke="#0b3cff" stroke-width="0.35" stroke-linejoin="round">9289</text><text x="225.2" y="361.5" text-anchor="start" stroke="#0b3cff" stroke-width="0.35" stroke-linejoin="round">9K159</text><text x="66.2" y="442.5" text-anchor="start" stroke="#0b3cff" stroke-width="0.35" stroke-linejoin="round">6A956</text><text x="54.2" y="507.5" text-anchor="start" stroke="#0b3cff" stroke-width="0.35" stroke-linejoin="round">9155</text><text x="4.2" y="691.5" text-anchor="start" stroke="#0b3cff" stroke-width="0.35" stroke-linejoin="round">9180</text><text x="246.2" y="684.5" font-size="17.6" stroke="#0b3cff" stroke-width="0.35" stroke-linejoin="round">HN1</text><text x="197.2" y="797.5" font-size="17.6" stroke="#0b3cff" stroke-width="0.35" stroke-linejoin="round">HT1</text><text x="259.2" y="864.5" text-anchor="start" stroke="#0b3cff" stroke-width="0.35" stroke-linejoin="round">9C330</text><text x="192.2" y="928.5" text-anchor="start" stroke="#0b3cff" stroke-width="0.35" stroke-linejoin="round">8260</text><text x="432.2" y="871.5" text-anchor="start" stroke="#0b3cff" stroke-width="0.35" stroke-linejoin="round">9D319C</text><text x="123.2" y="1013.5" font-size="17.6" stroke="#0b3cff" stroke-width="0.35" stroke-linejoin="round">HC1</text><text x="180.2" y="1111.5" text-anchor="start" stroke="#0b3cff" stroke-width="0.35" stroke-linejoin="round">9D319B</text><text x="266.2" y="1146.5" text-anchor="start" stroke="#0b3cff" stroke-width="0.35" stroke-linejoin="round">9D319A</text><text x="348.2" y="1067.5" font-size="17.6" stroke="#0b3cff" stroke-width="0.35" stroke-linejoin="round">HS1</text><text x="411.2" y="1109.5" font-size="17.6" stroke="#0b3cff" stroke-width="0.35" stroke-linejoin="round">HC2</text><text x="318.2" y="1192.5" text-anchor="start" stroke="#0b3cff" stroke-width="0.35" stroke-linejoin="round">9A337</text><text x="616.2" y="1118.5" text-anchor="start" stroke="#0b3cff" stroke-width="0.35" stroke-linejoin="round">9J296</text><path d="M517.0 60.0L517.0 83.0" stroke="#000" stroke-width="1.5" fill="none"/><circle cx="517.0" cy="83.0" r="3.3" fill="#000"/><path d="M384.0 153.0L384.0 193.0" stroke="#000" stroke-width="1.5" fill="none"/><circle cx="384.0" cy="193.0" r="3.3" fill="#000"/><path d="M262.0 240.0L262.0 282.0" stroke="#000" stroke-width="1.5" fill="none"/><circle cx="262.0" cy="282.0" r="3.3" fill="#000"/><path d="M254.0 342.0L254.0 324.0" stroke="#000" stroke-width="1.5" fill="none"/><circle cx="254.0" cy="324.0" r="3.3" fill="#000"/><path d="M127.0 433.0L148.0 433.0" stroke="#000" stroke-width="1.5" fill="none"/><circle cx="148.0" cy="433.0" r="3.3" fill="#000"/><path d="M102.0 497.0L133.0 497.0" stroke="#000" stroke-width="1.5" fill="none"/><circle cx="133.0" cy="497.0" r="3.3" fill="#000"/><path d="M49.0 681.0L82.0 681.0" stroke="#000" stroke-width="1.5" fill="none"/><circle cx="82.0" cy="681.0" r="3.3" fill="#000"/><path d="M264.0 688.0L264.0 703.0" stroke="#000" stroke-width="1.5" fill="none"/><circle cx="264.0" cy="703.0" r="3.3" fill="#000"/><path d="M216.0 778.0L216.0 765.0" stroke="#000" stroke-width="1.5" fill="none"/><circle cx="216.0" cy="765.0" r="3.3" fill="#000"/><path d="M317.0 854.0L343.0 854.0" stroke="#000" stroke-width="1.5" fill="none"/><circle cx="343.0" cy="854.0" r="3.3" fill="#000"/><path d="M237.0 917.0L265.0 917.0" stroke="#000" stroke-width="1.5" fill="none"/><circle cx="265.0" cy="917.0" r="3.3" fill="#000"/><path d="M505.0 859.0L537.0 859.0" stroke="#000" stroke-width="1.5" fill="none"/><circle cx="537.0" cy="859.0" r="3.3" fill="#000"/><path d="M163.0 1003.0L187.0 1003.0" stroke="#000" stroke-width="1.5" fill="none"/><circle cx="187.0" cy="1003.0" r="3.3" fill="#000"/><path d="M217.0 1091.0L217.0 1068.0" stroke="#000" stroke-width="1.5" fill="none"/><circle cx="217.0" cy="1068.0" r="3.3" fill="#000"/><path d="M303.0 1127.0L303.0 1103.0" stroke="#000" stroke-width="1.5" fill="none"/><circle cx="303.0" cy="1103.0" r="3.3" fill="#000"/><path d="M346.0 1057.0L331.0 1057.0" stroke="#000" stroke-width="1.5" fill="none"/><circle cx="331.0" cy="1057.0" r="3.3" fill="#000"/><path d="M433.0 1090.0L433.0 1067.0" stroke="#000" stroke-width="1.5" fill="none"/><circle cx="433.0" cy="1067.0" r="3.3" fill="#000"/><path d="M381.0 1182.0L411.0 1182.0" stroke="#000" stroke-width="1.5" fill="none"/><circle cx="411.0" cy="1182.0" r="3.3" fill="#000"/><path d="M615.0 1109.0L589.0 1109.0" stroke="#000" stroke-width="1.5" fill="none"/><circle cx="589.0" cy="1109.0" r="3.3" fill="#000"/></g>
</svg>
</body></html>
